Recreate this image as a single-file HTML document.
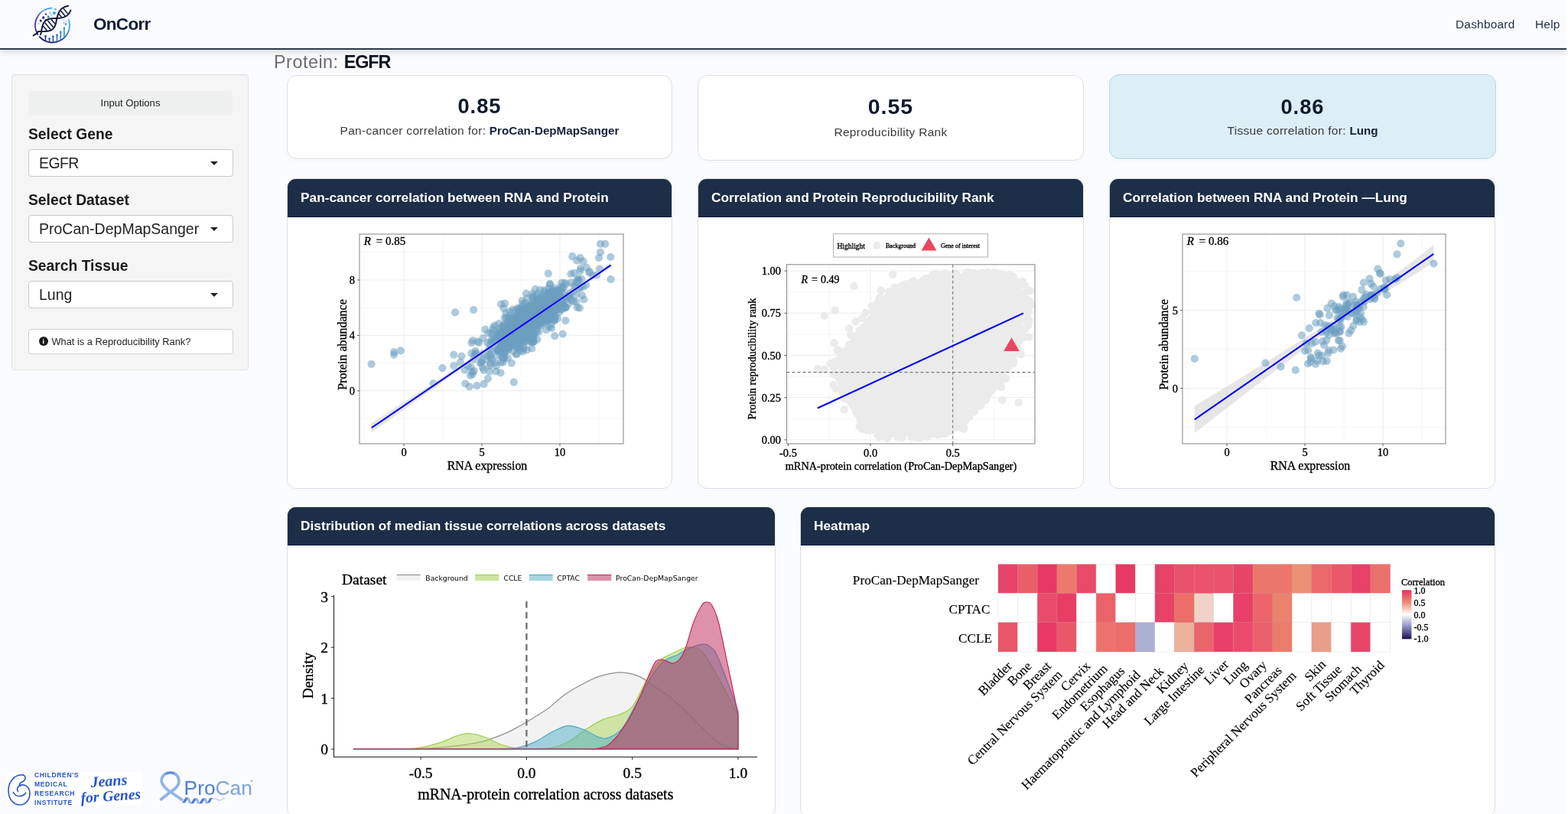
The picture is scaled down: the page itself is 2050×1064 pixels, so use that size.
<!DOCTYPE html>
<html><head><meta charset="utf-8"><title>OnCorr</title><style>
*{box-sizing:border-box;margin:0;padding:0}
html,body{width:2050px;height:1064px;overflow:hidden}
body{background:#fafbfe;font-family:"Liberation Sans",Arial,sans-serif;color:#212529;position:relative}
.hdr{position:absolute;left:0;top:0;width:2048px;height:65px;background:#fafbfe;border-bottom:2px solid #2e3a4a;box-shadow:0 3px 8px rgba(0,0,0,.13)}
.hdr:after{content:"";position:absolute;left:0;right:0;top:61px;height:1px;background:#fff}
.brand{position:absolute;left:122px;top:18.5px;font-size:22.5px;font-weight:bold;color:#0f1c38;letter-spacing:-0.7px}
.nav{position:absolute;top:23.2px;font-size:15.4px;color:#1c2b47;letter-spacing:0.25px}
.side{position:absolute;left:15px;top:97px;width:310px;height:387px;background:#f5f5f5;border:1px solid #e3e3e3;border-radius:4px;box-shadow:inset 0 1px 1px rgba(0,0,0,.03)}
.io{position:absolute;left:21px;top:21px;width:267px;height:32px;background:#eeefef;border-radius:4px;font-size:13.1px;color:#222;text-align:center;line-height:32px}
.lbl{position:absolute;left:21px;font-size:19.3px;font-weight:bold;color:#1a1a1a}
.sel{position:absolute;left:21px;width:268px;height:36px;background:#fff;border:1px solid #c9c9c9;border-radius:4px;font-size:19.5px;color:#222;padding-left:13px;line-height:34px}
.sel:after{content:"";position:absolute;right:19px;top:15px;border-left:5px solid transparent;border-right:5px solid transparent;border-top:5.5px solid #222}
.btn{position:absolute;left:21px;top:332px;width:268px;height:33px;background:#fff;border:1px solid #cfcfcf;border-radius:4px;font-size:12.85px;color:#222;line-height:31px;padding-left:14px}
.ic{display:inline-block;width:12.4px;height:12.4px;border-radius:50%;background:#1a1a1a;color:#fff;font-size:9px;font-weight:bold;text-align:center;line-height:12.4px;vertical-align:-1px;margin-right:3px;position:relative;top:-3px;left:-1.5px;font-family:"Liberation Serif",serif}
.ttl{position:absolute;left:358px;top:67.5px;font-size:23.4px;color:#6b6b6b;white-space:nowrap;letter-spacing:0.5px}
.ttl b{color:#0d1422;font-size:23.4px;letter-spacing:-1.1px;margin-left:0}
.vb{position:absolute;background:#fff;border:1px solid #dadbde;border-radius:13px;box-shadow:0 0 0 1px #fff,0 1px 4px rgba(0,0,0,.06);text-align:center}
.vb .n{position:absolute;left:0;right:0;font-size:27.3px;font-weight:bold;color:#0f1a2e;letter-spacing:1px}
.vb .s{position:absolute;left:0;right:0;font-size:15.5px;color:#3a3a3a;white-space:nowrap;letter-spacing:0.3px}
.vb .s b{font-size:15.2px;color:#15203a;letter-spacing:0}
.card{position:absolute;background:#fff;border:1px solid #dadcdf;border-radius:12px;overflow:hidden;box-shadow:0 0 0 1px #fff,0 1px 3px rgba(0,0,0,.06)}
.card .ch{position:absolute;left:-1px;top:-1px;right:-1px;height:51px;background:#1c2e48;border:1px solid #0c1830;color:#fff;font-size:17.3px;font-weight:bold;padding-left:17px;line-height:48px;white-space:nowrap;border-radius:12px 12px 0 0}
#ov{position:absolute;left:0;top:0;width:2050px;height:1064px}
#ov text{fill:#000;stroke:#000;stroke-width:0.35px}
#ov text.nl{stroke-width:0}
#ov text.hm{stroke-width:0.12px}
</style></head>
<body>
<div class="hdr"><svg style="position:absolute;left:0;top:0" width="100" height="62" viewBox="0 0 100 62"><defs><linearGradient id="gL" gradientUnits="userSpaceOnUse" x1="0" y1="10" x2="0" y2="52"><stop offset="0" stop-color="#5ab2f2"/><stop offset="0.35" stop-color="#5a46b4"/><stop offset="1" stop-color="#33106e"/></linearGradient><linearGradient id="gR" gradientUnits="userSpaceOnUse" x1="52" y1="50" x2="92" y2="25"><stop offset="0" stop-color="#2a1670"/><stop offset="0.45" stop-color="#1f4a9c"/><stop offset="1" stop-color="#4fd2f7"/></linearGradient><linearGradient id="gB" gradientUnits="userSpaceOnUse" x1="58" y1="0" x2="86" y2="0"><stop offset="0" stop-color="#173a78"/><stop offset="1" stop-color="#2f8ccc"/></linearGradient></defs><path d="M67.71,10.51 A22.5,22.5 0 0 0 49.42,44.92" fill="none" stroke="url(#gL)" stroke-width="1.9" stroke-linecap="round"/><path d="M51.78,48.06 A22.5,22.5 0 0 0 89.64,25.3" fill="none" stroke="url(#gR)" stroke-width="1.9" stroke-linecap="round"/><line x1="59.5" y1="47.3" x2="59.5" y2="52.42" stroke="url(#gB)" stroke-width="1.5" stroke-linecap="round"/><circle cx="59.5" cy="47.3" r="1.25" fill="url(#gB)"/><line x1="64.6" y1="50.4" x2="64.6" y2="53.96" stroke="url(#gB)" stroke-width="1.5" stroke-linecap="round"/><circle cx="64.6" cy="50.4" r="1.25" fill="url(#gB)"/><line x1="69.4" y1="47.8" x2="69.4" y2="54.28" stroke="url(#gB)" stroke-width="1.5" stroke-linecap="round"/><circle cx="69.4" cy="47.8" r="1.25" fill="url(#gB)"/><line x1="74.5" y1="45.8" x2="74.5" y2="53.49" stroke="url(#gB)" stroke-width="1.5" stroke-linecap="round"/><circle cx="74.5" cy="45.8" r="1.25" fill="url(#gB)"/><line x1="79.3" y1="41.7" x2="79.3" y2="51.54" stroke="url(#gB)" stroke-width="1.5" stroke-linecap="round"/><circle cx="79.3" cy="41.7" r="1.25" fill="url(#gB)"/><line x1="83.9" y1="36.8" x2="83.9" y2="48.2" stroke="url(#gB)" stroke-width="1.5" stroke-linecap="round"/><circle cx="83.9" cy="36.8" r="1.25" fill="url(#gB)"/><path d="M56.7,23 L60,26.3 M59.8,18.4 L63.3,22 M65.3,16.4 L67.1,19.7" stroke="#5a7cc8" stroke-width="0.5"/><circle cx="59.8" cy="18.4" r="1.2" fill="#4a2a96"/><circle cx="56.7" cy="23.0" r="1.7" fill="#3c1f86"/><circle cx="60.0" cy="26.3" r="1.2" fill="#3c1f86"/><circle cx="53.2" cy="27.1" r="1.5" fill="#0d1430"/><circle cx="50.6" cy="30.9" r="0.9" fill="#5ab8e0"/><circle cx="63.3" cy="22.0" r="1.4" fill="#2f7fcf"/><circle cx="65.3" cy="16.4" r="1.0" fill="#5ab8e0"/><circle cx="67.1" cy="19.7" r="0.8" fill="#5ab8e0"/><circle cx="70.9" cy="16.9" r="2.0" fill="#3d9cf0"/><circle cx="72.4" cy="12.1" r="1.35" fill="#49b2f5"/><circle cx="83.6" cy="26.3" r="0.8" fill="#7fd6f2"/><circle cx="86.1" cy="27.8" r="0.8" fill="#7fc6e0"/><circle cx="83.6" cy="29.9" r="0.9" fill="#9a86d8"/><circle cx="86.1" cy="31.6" r="1.35" fill="#3d9cf0"/><path d="M43.65,46.59 L44.46,46.01 L45.3,45.45 L46.15,44.92 L47.03,44.41 L47.79,43.78 L48.31,42.84 L48.97,42.08 L49.79,41.51 L50.78,41.13 L52.03,41.07 L53.33,41.07 L54.65,41.08 L55.95,41.09 L57.25,41.08 L58.53,41.06 L59.78,41 L61,40.9 L62.18,40.75 L63.31,40.55 L64.4,40.3 L65.43,39.97 L66.4,39.58 L67.31,39.11 L68.16,38.57 L68.94,37.96 L69.66,37.26 L70.31,36.49 L70.9,35.64 L71.43,34.73 L71.91,33.74 L72.33,32.69 L72.7,31.59 L73.03,30.43 L73.32,29.23 L73.58,28 L73.82,26.73 L73.92,25.3 L74.25,24.15 L74.59,23 L74.93,21.86 L75.29,20.73 L75.66,19.62 L76.05,18.54 L76.47,17.5 L76.93,16.49 L77.42,15.52 L77.95,14.61 L78.52,13.74 L79.14,12.93 L79.81,12.18 L80.53,11.49 L81.31,10.86 L82.13,10.29 L83,9.77 L83.91,9.32 L84.88,8.91 L85.89,8.56 L86.93,8.26 L88.01,8 L89.13,7.77" fill="none" stroke="#0c1632" stroke-width="1.9" stroke-linecap="round" stroke-linejoin="round"/><path d="M52.94,45.13 L53.39,44.36 L53.65,43.36 L53.84,42.27 L54.02,41.18 L54.21,40.09 L54.39,39 L54.59,37.92 L54.79,36.86 L55.02,35.81 L55.27,34.8 L55.54,33.81 L55.85,32.86 L56.18,31.95 L56.55,31.09 L56.97,30.27 L57.42,29.5 L57.91,28.78 L58.45,28.11 L59.04,27.5 L59.67,26.94 L60.35,26.43 L61.08,25.99 L61.85,25.59 L62.66,25.25 L63.52,24.96 L64.42,24.72 L65.35,24.52 L66.32,24.36 L67.32,24.24 L68.35,24.16 L69.41,24.1 L70.48,24.07 L71.57,24.05 L72.67,24.05 L73.82,24.11 L74.83,24 L75.83,23.88 L76.83,23.76 L77.82,23.63 L78.8,23.48 L79.76,23.31 L80.7,23.12 L81.62,22.91 L82.52,22.66 L83.38,22.38 L84.22,22.07 L85.03,21.72 L85.8,21.33 L86.54,20.9 L87.25,20.42 L87.92,19.91 L88.55,19.35 L89.14,18.75 L89.7,18.11 L90.23,17.42 L90.72,16.7 L91.18,15.94 L91.61,15.14 L92.02,14.31 L92.39,13.44" fill="none" stroke="#0c1632" stroke-width="1.9" stroke-linecap="round" stroke-linejoin="round"/><line x1="61.47" y1="40.09" x2="56.29" y2="33.93" stroke="#0c1632" stroke-width="1.5"/><line x1="66.06" y1="38.4" x2="58.74" y2="29.7" stroke="#0c1632" stroke-width="1.5"/><line x1="69.58" y1="35.44" x2="62.26" y2="26.74" stroke="#0c1632" stroke-width="1.5"/><line x1="72.03" y1="31.21" x2="66.85" y2="25.05" stroke="#0c1632" stroke-width="1.5"/><line x1="76.81" y1="18.14" x2="80.55" y2="22.58" stroke="#0c1632" stroke-width="1.5"/><line x1="79.42" y1="14.09" x2="84.98" y2="20.71" stroke="#0c1632" stroke-width="1.5"/><line x1="82.83" y1="11" x2="88.61" y2="17.88" stroke="#0c1632" stroke-width="1.5"/></svg>
<div class="brand">OnCorr</div>
<div class="nav" style="left:1903px">Dashboard</div>
<div class="nav" style="left:2007px">Help</div>
</div>
<div class="side">
<div class="io">Input Options</div>
<div class="lbl" style="top:67px">Select Gene</div>
<div class="sel" style="top:97px"><span style="letter-spacing:-0.6px">EGFR</span></div>
<div class="lbl" style="top:153px">Select Dataset</div>
<div class="sel" style="top:183px">ProCan-DepMapSanger</div>
<div class="lbl" style="top:239px">Search Tissue</div>
<div class="sel" style="top:269px">Lung</div>
<div class="btn"><span class="ic">i</span>What is a Reproducibility Rank?</div>
</div>
<div class="ttl">Protein: <b>EGFR</b></div>
<div class="vb" style="left:375px;top:98px;width:504px;height:110px"><div class="n" style="top:24.4px">0.85</div><div class="s" style="top:63.2px">Pan-cancer correlation for: <b>ProCan-DepMapSanger</b></div></div>
<div class="vb" style="left:912px;top:98px;width:505px;height:112px"><div class="n" style="top:24.2px;font-size:28.5px">0.55</div><div class="s" style="top:64.6px">Reproducibility Rank</div></div>
<div class="vb" style="left:1450px;top:97px;width:506px;height:111px;background:#dcEEF6;border-color:#b5d6e6"><div class="n" style="top:25.5px">0.86</div><div class="s" style="top:64.3px">Tissue correlation for: <b>Lung</b></div></div>

<div class="card" style="left:375px;top:233px;width:504px;height:406px"><div class="ch">Pan-cancer correlation between RNA and Protein</div></div>
<div class="card" style="left:912px;top:233px;width:505px;height:406px"><div class="ch">Correlation and Protein Reproducibility Rank</div></div>
<div class="card" style="left:1450px;top:233px;width:505px;height:406px"><div class="ch">Correlation between RNA and Protein —Lung</div></div>
<div class="card" style="left:375px;top:662px;width:639px;height:406px"><div class="ch">Distribution of median tissue correlations across datasets</div></div>
<div class="card" style="left:1046px;top:662px;width:909px;height:406px"><div class="ch">Heatmap</div></div>

<div style="position:absolute;left:9px;top:1009px;width:177px;height:43px;background:#fff"></div>
<svg style="position:absolute;left:8px;top:1005px" width="330" height="52" viewBox="0 0 330 52">
<g fill="none" stroke="#2456c8" stroke-width="1.6">
<path d="M20 8 C10 8 3 18 3 28 C3 40 10 47 18 47 C26 47 31 40 31 32 C31 25 26 20 20 21 C15 22 13 27 16 30"/>
<path d="M20 8 C26 7 27 14 21 17 C17 19 16 22 20 22"/>
<path d="M9 30 C13 38 22 37 26 31"/>
</g>
<g font-family="Liberation Sans,sans-serif" font-weight="bold" font-size="8.6" fill="#2456c8" letter-spacing="0.6">
<text x="37" y="11">CHILDREN'S</text><text x="37" y="22.6">MEDICAL</text><text x="37" y="34.5">RESEARCH</text><text x="37" y="46.5">INSTITUTE</text>
</g>
<g font-family="Liberation Serif,serif" font-style="italic" font-weight="bold" fill="#2456c8">
<text x="111" y="24" font-size="20" transform="rotate(-4 111 24)">Jeans</text>
<text x="98" y="44.5" font-size="19.5" transform="rotate(-4 98 44.5)">for Genes</text>
</g>
<path d="M214.9,4.8 C221.5,4.8 226.2,10 225.9,17.2 C225.6,23 219,28 213,31.5 L201.5,40.8" fill="none" stroke="#8fb1e8" stroke-width="3.8" stroke-linejoin="round"/>
<path d="M214.9,4.8 C207.5,4.8 202.8,10 203.2,16 C203.8,22.5 210,27.5 218.8,32.8 L231,41.2" fill="none" stroke="#93b4e9" stroke-width="3.8" stroke-linejoin="round"/>
<path d="M208.5,6.8 C211,5 216,4.5 220,6" fill="none" stroke="#5f8dd4" stroke-width="2.6"/>
<g fill="#4f80cc"><polygon points="230,44.5 234,44.5 238.5,37.5 234.5,37.5"/><polygon points="241,45.5 245,45.5 249.5,38.5 245.5,38.5"/><polygon points="252,45.5 256,45.5 260.5,38.5 256.5,38.5"/><polygon points="262.5,44.5 266,44.5 270,38 266.5,38"/></g>
<g fill="#8fb1e8"><polygon points="236.5,38 239.5,38 242,45 239,45"/><polygon points="247.5,38.5 250.5,38.5 253,45.5 250,45.5"/><polygon points="258.5,38.5 261.5,38.5 264,45.5 261,45.5"/></g>
<path d="M270,40 q3,-2.5 6,0 q3,2.5 6,0 q2,-2 4,-1" fill="none" stroke="#a9c2ee" stroke-width="1.1"/>
<circle cx="321" cy="15.8" r="1.6" fill="#b4c9ee"/>
<text x="232.6" y="33.6" font-family="Liberation Sans,sans-serif" font-size="26.3" fill="#4f80cc">Pro<tspan fill="#7aa3e0">Can</tspan></text>
</svg>
<div style="position:absolute;left:2048px;top:0;width:2px;height:1064px;background:#fff"></div>
<svg id="ov" width="2050" height="1064" viewBox="0 0 2050 1064">
<rect x="470" y="306" width="345" height="274" fill="#fff"/>
<line x1="477" y1="306" x2="477" y2="580" stroke="#f4f4f4" stroke-width="0.8"/>
<line x1="579" y1="306" x2="579" y2="580" stroke="#f4f4f4" stroke-width="0.8"/>
<line x1="681" y1="306" x2="681" y2="580" stroke="#f4f4f4" stroke-width="0.8"/>
<line x1="783" y1="306" x2="783" y2="580" stroke="#f4f4f4" stroke-width="0.8"/>
<line x1="470" y1="547" x2="815" y2="547" stroke="#f4f4f4" stroke-width="0.8"/>
<line x1="470" y1="474.6" x2="815" y2="474.6" stroke="#f4f4f4" stroke-width="0.8"/>
<line x1="470" y1="402.2" x2="815" y2="402.2" stroke="#f4f4f4" stroke-width="0.8"/>
<line x1="470" y1="329.8" x2="815" y2="329.8" stroke="#f4f4f4" stroke-width="0.8"/>
<line x1="528" y1="306" x2="528" y2="580" stroke="#ececec" stroke-width="1"/>
<line x1="630" y1="306" x2="630" y2="580" stroke="#ececec" stroke-width="1"/>
<line x1="732" y1="306" x2="732" y2="580" stroke="#ececec" stroke-width="1"/>
<line x1="470" y1="510.8" x2="815" y2="510.8" stroke="#ececec" stroke-width="1"/>
<line x1="470" y1="438.4" x2="815" y2="438.4" stroke="#ececec" stroke-width="1"/>
<line x1="470" y1="366" x2="815" y2="366" stroke="#ececec" stroke-width="1"/>
<g fill="#6c9fbf" fill-opacity="0.55"><circle cx="669.4" cy="429.5" r="5.1"/><circle cx="723.7" cy="403.8" r="5.1"/><circle cx="666.8" cy="436.8" r="5.1"/><circle cx="711.1" cy="392" r="5.1"/><circle cx="669.6" cy="450.5" r="5.1"/><circle cx="716.6" cy="396.1" r="5.1"/><circle cx="736.9" cy="375.9" r="5.1"/><circle cx="696.9" cy="419.1" r="5.1"/><circle cx="762.3" cy="374.8" r="5.1"/><circle cx="680.1" cy="441.4" r="5.1"/><circle cx="701.7" cy="410.5" r="5.1"/><circle cx="690.9" cy="420.4" r="5.1"/><circle cx="706" cy="400.6" r="5.1"/><circle cx="726.2" cy="393" r="5.1"/><circle cx="655.5" cy="434.8" r="5.1"/><circle cx="664.6" cy="439.7" r="5.1"/><circle cx="663.3" cy="438.4" r="5.1"/><circle cx="680.3" cy="424.1" r="5.1"/><circle cx="780.2" cy="359.6" r="5.1"/><circle cx="720" cy="416.6" r="5.1"/><circle cx="692.3" cy="410.3" r="5.1"/><circle cx="697.1" cy="410.7" r="5.1"/><circle cx="701.9" cy="424.9" r="5.1"/><circle cx="713.2" cy="414.8" r="5.1"/><circle cx="745.2" cy="389.1" r="5.1"/><circle cx="716.2" cy="402.4" r="5.1"/><circle cx="722.7" cy="405.7" r="5.1"/><circle cx="723.8" cy="398.8" r="5.1"/><circle cx="730.3" cy="385" r="5.1"/><circle cx="702.8" cy="421.4" r="5.1"/><circle cx="718.2" cy="395.2" r="5.1"/><circle cx="739.6" cy="391.3" r="5.1"/><circle cx="712.9" cy="398.2" r="5.1"/><circle cx="706.3" cy="406.5" r="5.1"/><circle cx="703.8" cy="418.4" r="5.1"/><circle cx="674.5" cy="435.8" r="5.1"/><circle cx="713.8" cy="384.9" r="5.1"/><circle cx="723.3" cy="384.3" r="5.1"/><circle cx="718.4" cy="392.1" r="5.1"/><circle cx="703.8" cy="401.1" r="5.1"/><circle cx="742.8" cy="388.5" r="5.1"/><circle cx="682.4" cy="400.6" r="5.1"/><circle cx="705.4" cy="397.5" r="5.1"/><circle cx="720.8" cy="413.7" r="5.1"/><circle cx="758.9" cy="350.9" r="5.1"/><circle cx="703.7" cy="401.4" r="5.1"/><circle cx="702.5" cy="423" r="5.1"/><circle cx="696.6" cy="411" r="5.1"/><circle cx="726.7" cy="386.3" r="5.1"/><circle cx="700.8" cy="395.7" r="5.1"/><circle cx="680.7" cy="416.5" r="5.1"/><circle cx="726.6" cy="399.1" r="5.1"/><circle cx="655.5" cy="455.2" r="5.1"/><circle cx="705.2" cy="403.3" r="5.1"/><circle cx="737.3" cy="400.8" r="5.1"/><circle cx="699.4" cy="405.6" r="5.1"/><circle cx="695.5" cy="446.5" r="5.1"/><circle cx="719.1" cy="371.2" r="5.1"/><circle cx="723.9" cy="408.8" r="5.1"/><circle cx="689.3" cy="417.9" r="5.1"/><circle cx="760.3" cy="364.7" r="5.1"/><circle cx="702.1" cy="392.3" r="5.1"/><circle cx="697.4" cy="391.7" r="5.1"/><circle cx="682.6" cy="431.3" r="5.1"/><circle cx="717" cy="383.8" r="5.1"/><circle cx="715.4" cy="399.2" r="5.1"/><circle cx="654.8" cy="453.2" r="5.1"/><circle cx="684.4" cy="430.8" r="5.1"/><circle cx="713.7" cy="408.4" r="5.1"/><circle cx="718.6" cy="399.7" r="5.1"/><circle cx="691.2" cy="417.9" r="5.1"/><circle cx="709.9" cy="395.9" r="5.1"/><circle cx="687.7" cy="424.8" r="5.1"/><circle cx="666" cy="416.3" r="5.1"/><circle cx="734.9" cy="392" r="5.1"/><circle cx="687.6" cy="437.5" r="5.1"/><circle cx="703.5" cy="408.4" r="5.1"/><circle cx="752.8" cy="374.5" r="5.1"/><circle cx="680.3" cy="457.8" r="5.1"/><circle cx="733.9" cy="388" r="5.1"/><circle cx="660" cy="438.4" r="5.1"/><circle cx="660" cy="396.6" r="5.1"/><circle cx="726.8" cy="388" r="5.1"/><circle cx="695.1" cy="443.9" r="5.1"/><circle cx="696.3" cy="435.7" r="5.1"/><circle cx="714" cy="431.1" r="5.1"/><circle cx="677.1" cy="413.5" r="5.1"/><circle cx="739.6" cy="401.5" r="5.1"/><circle cx="661.8" cy="428.3" r="5.1"/><circle cx="720.2" cy="412.2" r="5.1"/><circle cx="682.4" cy="434.2" r="5.1"/><circle cx="670.2" cy="442.3" r="5.1"/><circle cx="730" cy="384.3" r="5.1"/><circle cx="749.7" cy="380.8" r="5.1"/><circle cx="696" cy="428.6" r="5.1"/><circle cx="696.3" cy="432.6" r="5.1"/><circle cx="655.8" cy="434.6" r="5.1"/><circle cx="734.6" cy="379.3" r="5.1"/><circle cx="732" cy="388.5" r="5.1"/><circle cx="681.8" cy="424.7" r="5.1"/><circle cx="690.2" cy="434.2" r="5.1"/><circle cx="657.9" cy="460.8" r="5.1"/><circle cx="699.2" cy="412.1" r="5.1"/><circle cx="687.7" cy="403.7" r="5.1"/><circle cx="703.7" cy="403.5" r="5.1"/><circle cx="729.2" cy="404" r="5.1"/><circle cx="651.1" cy="437.1" r="5.1"/><circle cx="682.5" cy="408.7" r="5.1"/><circle cx="707.6" cy="395.5" r="5.1"/><circle cx="718.1" cy="427.5" r="5.1"/><circle cx="717" cy="410.4" r="5.1"/><circle cx="680.9" cy="432" r="5.1"/><circle cx="718.2" cy="389.9" r="5.1"/><circle cx="724.1" cy="418.1" r="5.1"/><circle cx="684.9" cy="453.8" r="5.1"/><circle cx="696.9" cy="408" r="5.1"/><circle cx="680.7" cy="423.5" r="5.1"/><circle cx="705" cy="397.3" r="5.1"/><circle cx="679.3" cy="438.1" r="5.1"/><circle cx="680.7" cy="404.4" r="5.1"/><circle cx="726.1" cy="397.3" r="5.1"/><circle cx="704.9" cy="408.7" r="5.1"/><circle cx="704.3" cy="413.2" r="5.1"/><circle cx="691.2" cy="435.4" r="5.1"/><circle cx="683.6" cy="403.7" r="5.1"/><circle cx="712.5" cy="404.1" r="5.1"/><circle cx="694.1" cy="416.7" r="5.1"/><circle cx="708" cy="416.2" r="5.1"/><circle cx="704.2" cy="407.6" r="5.1"/><circle cx="681" cy="436.3" r="5.1"/><circle cx="674.9" cy="444" r="5.1"/><circle cx="721.1" cy="429" r="5.1"/><circle cx="692.8" cy="426.1" r="5.1"/><circle cx="684.2" cy="423" r="5.1"/><circle cx="727" cy="394.2" r="5.1"/><circle cx="695.9" cy="424" r="5.1"/><circle cx="696.2" cy="404.5" r="5.1"/><circle cx="689.7" cy="435" r="5.1"/><circle cx="668.4" cy="448.9" r="5.1"/><circle cx="665.3" cy="423.1" r="5.1"/><circle cx="708.1" cy="411" r="5.1"/><circle cx="735.1" cy="397.9" r="5.1"/><circle cx="717.8" cy="391.2" r="5.1"/><circle cx="661.5" cy="459.3" r="5.1"/><circle cx="676.7" cy="417.8" r="5.1"/><circle cx="731.1" cy="407.9" r="5.1"/><circle cx="725" cy="401.3" r="5.1"/><circle cx="689.7" cy="427.4" r="5.1"/><circle cx="691.4" cy="442.3" r="5.1"/><circle cx="674.8" cy="446.2" r="5.1"/><circle cx="711.4" cy="379.3" r="5.1"/><circle cx="766.2" cy="372.7" r="5.1"/><circle cx="657.2" cy="447.7" r="5.1"/><circle cx="676.4" cy="404.4" r="5.1"/><circle cx="713.3" cy="413.6" r="5.1"/><circle cx="722.3" cy="391.5" r="5.1"/><circle cx="659.6" cy="447.7" r="5.1"/><circle cx="693.5" cy="417.6" r="5.1"/><circle cx="702.6" cy="416" r="5.1"/><circle cx="704" cy="418.2" r="5.1"/><circle cx="677.4" cy="409.6" r="5.1"/><circle cx="708.2" cy="402.3" r="5.1"/><circle cx="660.3" cy="442.5" r="5.1"/><circle cx="719.4" cy="416.6" r="5.1"/><circle cx="726.2" cy="400.6" r="5.1"/><circle cx="709.2" cy="408.9" r="5.1"/><circle cx="704.7" cy="395" r="5.1"/><circle cx="689.5" cy="400.8" r="5.1"/><circle cx="680.2" cy="438.7" r="5.1"/><circle cx="716.8" cy="415.6" r="5.1"/><circle cx="690.3" cy="408.6" r="5.1"/><circle cx="729" cy="416.2" r="5.1"/><circle cx="711.7" cy="381.6" r="5.1"/><circle cx="728.6" cy="397" r="5.1"/><circle cx="684.7" cy="427.6" r="5.1"/><circle cx="671.1" cy="436.4" r="5.1"/><circle cx="694.8" cy="418.8" r="5.1"/><circle cx="728.3" cy="397.1" r="5.1"/><circle cx="663.7" cy="424.8" r="5.1"/><circle cx="673.1" cy="437.4" r="5.1"/><circle cx="696.1" cy="420.5" r="5.1"/><circle cx="674.8" cy="433.7" r="5.1"/><circle cx="752.8" cy="385.2" r="5.1"/><circle cx="696" cy="401.9" r="5.1"/><circle cx="717.6" cy="391.8" r="5.1"/><circle cx="720.5" cy="424.5" r="5.1"/><circle cx="678.2" cy="426.6" r="5.1"/><circle cx="711.6" cy="389.2" r="5.1"/><circle cx="710.9" cy="409.1" r="5.1"/><circle cx="700.3" cy="415.9" r="5.1"/><circle cx="705.4" cy="401.2" r="5.1"/><circle cx="691" cy="429.8" r="5.1"/><circle cx="678.4" cy="414.2" r="5.1"/><circle cx="730.7" cy="380" r="5.1"/><circle cx="720.3" cy="389.1" r="5.1"/><circle cx="699.3" cy="405.5" r="5.1"/><circle cx="673.6" cy="434" r="5.1"/><circle cx="681.4" cy="416.9" r="5.1"/><circle cx="685.2" cy="424.9" r="5.1"/><circle cx="709.2" cy="390.1" r="5.1"/><circle cx="680" cy="439" r="5.1"/><circle cx="719.4" cy="414.3" r="5.1"/><circle cx="710.4" cy="413.6" r="5.1"/><circle cx="696.8" cy="438.7" r="5.1"/><circle cx="716.8" cy="408.4" r="5.1"/><circle cx="677.4" cy="402.5" r="5.1"/><circle cx="716.8" cy="357.6" r="5.1"/><circle cx="709.3" cy="411.5" r="5.1"/><circle cx="702" cy="391.7" r="5.1"/><circle cx="698.7" cy="408.6" r="5.1"/><circle cx="712" cy="416.8" r="5.1"/><circle cx="702.5" cy="418.1" r="5.1"/><circle cx="668.9" cy="423.6" r="5.1"/><circle cx="715.7" cy="401.9" r="5.1"/><circle cx="677.1" cy="454.4" r="5.1"/><circle cx="711.2" cy="407" r="5.1"/><circle cx="658.1" cy="442.7" r="5.1"/><circle cx="662.1" cy="439.5" r="5.1"/><circle cx="702.9" cy="407" r="5.1"/><circle cx="704.7" cy="408.1" r="5.1"/><circle cx="671.5" cy="437.7" r="5.1"/><circle cx="686.8" cy="425.4" r="5.1"/><circle cx="706" cy="401.5" r="5.1"/><circle cx="739.4" cy="419.2" r="5.1"/><circle cx="709.2" cy="409.7" r="5.1"/><circle cx="755.1" cy="364.2" r="5.1"/><circle cx="658.9" cy="436.3" r="5.1"/><circle cx="686.6" cy="410" r="5.1"/><circle cx="673.5" cy="432.7" r="5.1"/><circle cx="696.1" cy="417.3" r="5.1"/><circle cx="685.1" cy="446.9" r="5.1"/><circle cx="710.6" cy="393.6" r="5.1"/><circle cx="697.7" cy="427.9" r="5.1"/><circle cx="704.3" cy="403.3" r="5.1"/><circle cx="695.1" cy="417" r="5.1"/><circle cx="733.8" cy="404.6" r="5.1"/><circle cx="685.7" cy="447.3" r="5.1"/><circle cx="682.2" cy="434.9" r="5.1"/><circle cx="675.9" cy="438.7" r="5.1"/><circle cx="743.4" cy="386.5" r="5.1"/><circle cx="696.6" cy="387.9" r="5.1"/><circle cx="697.9" cy="436.9" r="5.1"/><circle cx="709.2" cy="419.1" r="5.1"/><circle cx="739.5" cy="402.4" r="5.1"/><circle cx="685.2" cy="443.9" r="5.1"/><circle cx="701.7" cy="425.1" r="5.1"/><circle cx="697.8" cy="419.7" r="5.1"/><circle cx="684.4" cy="412.1" r="5.1"/><circle cx="722.3" cy="397.5" r="5.1"/><circle cx="677.3" cy="442.4" r="5.1"/><circle cx="706" cy="379.1" r="5.1"/><circle cx="688.2" cy="431.4" r="5.1"/><circle cx="682.3" cy="439.4" r="5.1"/><circle cx="675.6" cy="432.7" r="5.1"/><circle cx="734.5" cy="390" r="5.1"/><circle cx="686.9" cy="442.8" r="5.1"/><circle cx="704.6" cy="410.7" r="5.1"/><circle cx="669.3" cy="448.1" r="5.1"/><circle cx="698.3" cy="401.8" r="5.1"/><circle cx="714.7" cy="400.9" r="5.1"/><circle cx="691.4" cy="415.2" r="5.1"/><circle cx="699.1" cy="386.6" r="5.1"/><circle cx="671.6" cy="437.4" r="5.1"/><circle cx="730.4" cy="396.2" r="5.1"/><circle cx="734.2" cy="390.7" r="5.1"/><circle cx="702.9" cy="416.2" r="5.1"/><circle cx="665.6" cy="449.2" r="5.1"/><circle cx="753.6" cy="368.9" r="5.1"/><circle cx="714.2" cy="391.7" r="5.1"/><circle cx="713.3" cy="391.5" r="5.1"/><circle cx="692.8" cy="421.1" r="5.1"/><circle cx="723.4" cy="402" r="5.1"/><circle cx="666.8" cy="438.9" r="5.1"/><circle cx="686" cy="415.2" r="5.1"/><circle cx="681.7" cy="439.3" r="5.1"/><circle cx="691.2" cy="399.7" r="5.1"/><circle cx="698.2" cy="412.6" r="5.1"/><circle cx="699.6" cy="410" r="5.1"/><circle cx="722.1" cy="380.8" r="5.1"/><circle cx="659.1" cy="424" r="5.1"/><circle cx="699.3" cy="418" r="5.1"/><circle cx="758.1" cy="376.1" r="5.1"/><circle cx="747" cy="369.3" r="5.1"/><circle cx="674.2" cy="424.8" r="5.1"/><circle cx="717.4" cy="403.2" r="5.1"/><circle cx="642.4" cy="457" r="5.1"/><circle cx="694.7" cy="431.1" r="5.1"/><circle cx="744.1" cy="386.6" r="5.1"/><circle cx="689.7" cy="424.2" r="5.1"/><circle cx="680.2" cy="436.8" r="5.1"/><circle cx="701.7" cy="408.4" r="5.1"/><circle cx="686.9" cy="423.5" r="5.1"/><circle cx="665.3" cy="430.4" r="5.1"/><circle cx="681" cy="423.6" r="5.1"/><circle cx="677.2" cy="435.5" r="5.1"/><circle cx="704.6" cy="425.7" r="5.1"/><circle cx="759.8" cy="373.3" r="5.1"/><circle cx="697.6" cy="424.4" r="5.1"/><circle cx="738.4" cy="369.8" r="5.1"/><circle cx="706.7" cy="426.2" r="5.1"/><circle cx="687" cy="414.5" r="5.1"/><circle cx="686.8" cy="437.4" r="5.1"/><circle cx="670.3" cy="443.4" r="5.1"/><circle cx="699.7" cy="421.9" r="5.1"/><circle cx="699.8" cy="378.2" r="5.1"/><circle cx="742.8" cy="397.5" r="5.1"/><circle cx="707.8" cy="407.1" r="5.1"/><circle cx="696" cy="403" r="5.1"/><circle cx="691.2" cy="423.5" r="5.1"/><circle cx="690.2" cy="421.4" r="5.1"/><circle cx="730.8" cy="382.7" r="5.1"/><circle cx="666.5" cy="441.8" r="5.1"/><circle cx="679.8" cy="416.8" r="5.1"/><circle cx="704.9" cy="398.9" r="5.1"/><circle cx="697.8" cy="439.1" r="5.1"/><circle cx="710.4" cy="403.5" r="5.1"/><circle cx="711.8" cy="421.9" r="5.1"/><circle cx="701.4" cy="421.2" r="5.1"/><circle cx="682.5" cy="420.8" r="5.1"/><circle cx="708" cy="419.3" r="5.1"/><circle cx="657.4" cy="473.7" r="5.1"/><circle cx="685.3" cy="409.2" r="5.1"/><circle cx="698" cy="443.3" r="5.1"/><circle cx="678.2" cy="422.9" r="5.1"/><circle cx="740.3" cy="371.3" r="5.1"/><circle cx="708.3" cy="405.3" r="5.1"/><circle cx="673.4" cy="437.2" r="5.1"/><circle cx="691.2" cy="429.2" r="5.1"/><circle cx="700.9" cy="417.8" r="5.1"/><circle cx="707.6" cy="390.1" r="5.1"/><circle cx="717.5" cy="396.3" r="5.1"/><circle cx="693.5" cy="437.1" r="5.1"/><circle cx="696.6" cy="408.9" r="5.1"/><circle cx="674.7" cy="414.8" r="5.1"/><circle cx="691.2" cy="414.7" r="5.1"/><circle cx="691.3" cy="435.3" r="5.1"/><circle cx="750" cy="394.2" r="5.1"/><circle cx="721.8" cy="405.6" r="5.1"/><circle cx="706.2" cy="419.5" r="5.1"/><circle cx="689.2" cy="409.2" r="5.1"/><circle cx="747" cy="392.2" r="5.1"/><circle cx="699.6" cy="401.7" r="5.1"/><circle cx="683.9" cy="415.4" r="5.1"/><circle cx="680.1" cy="419.3" r="5.1"/><circle cx="710" cy="391.3" r="5.1"/><circle cx="708.3" cy="423" r="5.1"/><circle cx="715.6" cy="416.8" r="5.1"/><circle cx="717.7" cy="382.3" r="5.1"/><circle cx="713.9" cy="411" r="5.1"/><circle cx="728.5" cy="391.9" r="5.1"/><circle cx="668.9" cy="439.1" r="5.1"/><circle cx="734.1" cy="394.1" r="5.1"/><circle cx="702.3" cy="416.2" r="5.1"/><circle cx="658.1" cy="448.4" r="5.1"/><circle cx="708.1" cy="405.3" r="5.1"/><circle cx="695.1" cy="443.8" r="5.1"/><circle cx="729.3" cy="384.4" r="5.1"/><circle cx="724.4" cy="380.4" r="5.1"/><circle cx="688.5" cy="428.9" r="5.1"/><circle cx="707.1" cy="387.5" r="5.1"/><circle cx="658.1" cy="444.8" r="5.1"/><circle cx="681.9" cy="418.7" r="5.1"/><circle cx="735.2" cy="393.3" r="5.1"/><circle cx="669" cy="433.9" r="5.1"/><circle cx="692.4" cy="438.2" r="5.1"/><circle cx="721" cy="405.8" r="5.1"/><circle cx="716.1" cy="419.2" r="5.1"/><circle cx="726.2" cy="413.9" r="5.1"/><circle cx="725.1" cy="419.3" r="5.1"/><circle cx="733.1" cy="395.7" r="5.1"/><circle cx="661.3" cy="442.8" r="5.1"/><circle cx="707.6" cy="420.8" r="5.1"/><circle cx="687.3" cy="418.7" r="5.1"/><circle cx="695.2" cy="455.5" r="5.1"/><circle cx="688.8" cy="415.6" r="5.1"/><circle cx="706.6" cy="396.2" r="5.1"/><circle cx="682.5" cy="393" r="5.1"/><circle cx="718.9" cy="396.6" r="5.1"/><circle cx="725.9" cy="383.7" r="5.1"/><circle cx="701.9" cy="420.1" r="5.1"/><circle cx="724.4" cy="391.5" r="5.1"/><circle cx="653" cy="459.4" r="5.1"/><circle cx="710.8" cy="404.7" r="5.1"/><circle cx="706.2" cy="401.1" r="5.1"/><circle cx="702.9" cy="391.4" r="5.1"/><circle cx="684.9" cy="428.8" r="5.1"/><circle cx="707.3" cy="399.1" r="5.1"/><circle cx="718.6" cy="381.9" r="5.1"/><circle cx="687.7" cy="407" r="5.1"/><circle cx="710.8" cy="419.3" r="5.1"/><circle cx="696" cy="389.7" r="5.1"/><circle cx="718.6" cy="406.8" r="5.1"/><circle cx="640.6" cy="463.1" r="5.1"/><circle cx="682.2" cy="424.6" r="5.1"/><circle cx="755.9" cy="366" r="5.1"/><circle cx="707" cy="420.5" r="5.1"/><circle cx="670.3" cy="436.3" r="5.1"/><circle cx="687.9" cy="383.6" r="5.1"/><circle cx="689.5" cy="428.4" r="5.1"/><circle cx="727" cy="394.1" r="5.1"/><circle cx="669.1" cy="418.1" r="5.1"/><circle cx="691.7" cy="435.9" r="5.1"/><circle cx="707.2" cy="402.4" r="5.1"/><circle cx="691.1" cy="410.7" r="5.1"/><circle cx="719.4" cy="411.4" r="5.1"/><circle cx="649" cy="478.4" r="5.1"/><circle cx="696.2" cy="400.4" r="5.1"/><circle cx="723.9" cy="379.6" r="5.1"/><circle cx="744.8" cy="382.8" r="5.1"/><circle cx="725.2" cy="415.7" r="5.1"/><circle cx="716.2" cy="397.4" r="5.1"/><circle cx="697" cy="421.1" r="5.1"/><circle cx="672" cy="430.7" r="5.1"/><circle cx="730.6" cy="397.3" r="5.1"/><circle cx="712.4" cy="413.5" r="5.1"/><circle cx="705.6" cy="422.4" r="5.1"/><circle cx="708.6" cy="410.4" r="5.1"/><circle cx="707.1" cy="416.3" r="5.1"/><circle cx="670.6" cy="437.6" r="5.1"/><circle cx="724.7" cy="376.6" r="5.1"/><circle cx="691.4" cy="409.2" r="5.1"/><circle cx="717.9" cy="396.3" r="5.1"/><circle cx="661.4" cy="435.6" r="5.1"/><circle cx="675.6" cy="415.1" r="5.1"/><circle cx="718.7" cy="392.9" r="5.1"/><circle cx="637.3" cy="448.2" r="5.1"/><circle cx="716.5" cy="418.4" r="5.1"/><circle cx="723.1" cy="396.8" r="5.1"/><circle cx="694.9" cy="426" r="5.1"/><circle cx="674.4" cy="436.3" r="5.1"/><circle cx="774.9" cy="360" r="5.1"/><circle cx="704.5" cy="418.6" r="5.1"/><circle cx="684.2" cy="431.2" r="5.1"/><circle cx="677.7" cy="417.5" r="5.1"/><circle cx="692.7" cy="407.4" r="5.1"/><circle cx="671.1" cy="421.3" r="5.1"/><circle cx="698.7" cy="405.9" r="5.1"/><circle cx="696.8" cy="426.9" r="5.1"/><circle cx="729" cy="399.3" r="5.1"/><circle cx="695.8" cy="427.6" r="5.1"/><circle cx="704.4" cy="415.4" r="5.1"/><circle cx="706.3" cy="404.8" r="5.1"/><circle cx="682.5" cy="443.2" r="5.1"/><circle cx="710" cy="395.1" r="5.1"/><circle cx="716.4" cy="416.8" r="5.1"/><circle cx="714.2" cy="398.9" r="5.1"/><circle cx="706.3" cy="403.7" r="5.1"/><circle cx="691.4" cy="416.6" r="5.1"/><circle cx="722" cy="404.9" r="5.1"/><circle cx="664.1" cy="439.2" r="5.1"/><circle cx="704.2" cy="434" r="5.1"/><circle cx="682.8" cy="417.7" r="5.1"/><circle cx="695.7" cy="415.2" r="5.1"/><circle cx="668.5" cy="423.4" r="5.1"/><circle cx="742.3" cy="387.2" r="5.1"/><circle cx="681.4" cy="440.7" r="5.1"/><circle cx="721.2" cy="397.7" r="5.1"/><circle cx="679.9" cy="411.7" r="5.1"/><circle cx="718.1" cy="393.5" r="5.1"/><circle cx="656.3" cy="444.5" r="5.1"/><circle cx="714.7" cy="419" r="5.1"/><circle cx="722.1" cy="380.3" r="5.1"/><circle cx="724.7" cy="405.8" r="5.1"/><circle cx="682" cy="413.7" r="5.1"/><circle cx="723.7" cy="381.8" r="5.1"/><circle cx="728.8" cy="395.2" r="5.1"/><circle cx="689.3" cy="444.2" r="5.1"/><circle cx="718.6" cy="372" r="5.1"/><circle cx="688" cy="427.6" r="5.1"/><circle cx="715.2" cy="398.3" r="5.1"/><circle cx="665.8" cy="445.7" r="5.1"/><circle cx="672.5" cy="406.5" r="5.1"/><circle cx="681.8" cy="415" r="5.1"/><circle cx="746.3" cy="358" r="5.1"/><circle cx="734.3" cy="369.5" r="5.1"/><circle cx="669.1" cy="438.8" r="5.1"/><circle cx="681.5" cy="429.7" r="5.1"/><circle cx="763.5" cy="391.5" r="5.1"/><circle cx="713" cy="420.3" r="5.1"/><circle cx="732.1" cy="375.1" r="5.1"/><circle cx="686.8" cy="396.2" r="5.1"/><circle cx="701.2" cy="396.1" r="5.1"/><circle cx="707" cy="415.8" r="5.1"/><circle cx="690" cy="421.7" r="5.1"/><circle cx="714.5" cy="402" r="5.1"/><circle cx="757.1" cy="377.1" r="5.1"/><circle cx="687.9" cy="430.8" r="5.1"/><circle cx="680.3" cy="445.1" r="5.1"/><circle cx="675.2" cy="418.8" r="5.1"/><circle cx="700.8" cy="415.1" r="5.1"/><circle cx="707.9" cy="394.5" r="5.1"/><circle cx="714.4" cy="393.8" r="5.1"/><circle cx="685.7" cy="426.5" r="5.1"/><circle cx="680.4" cy="428" r="5.1"/><circle cx="679.3" cy="432.2" r="5.1"/><circle cx="695.1" cy="419.5" r="5.1"/><circle cx="692.8" cy="424.5" r="5.1"/><circle cx="731.4" cy="396.4" r="5.1"/><circle cx="674.6" cy="428.3" r="5.1"/><circle cx="672.7" cy="445.6" r="5.1"/><circle cx="701.4" cy="433.6" r="5.1"/><circle cx="620.5" cy="463.8" r="5.1"/><circle cx="724.7" cy="417.8" r="5.1"/><circle cx="677.4" cy="421.5" r="5.1"/><circle cx="650.7" cy="458" r="5.1"/><circle cx="669.9" cy="436.4" r="5.1"/><circle cx="651.1" cy="435.4" r="5.1"/><circle cx="695.8" cy="412.4" r="5.1"/><circle cx="691.3" cy="446.2" r="5.1"/><circle cx="695.6" cy="433.4" r="5.1"/><circle cx="699.6" cy="424.5" r="5.1"/><circle cx="691.6" cy="421.8" r="5.1"/><circle cx="718.3" cy="391.3" r="5.1"/><circle cx="674.8" cy="430.8" r="5.1"/><circle cx="735.1" cy="383.3" r="5.1"/><circle cx="681.5" cy="427.6" r="5.1"/><circle cx="690.9" cy="407.7" r="5.1"/><circle cx="700.2" cy="408.6" r="5.1"/><circle cx="753.5" cy="394.6" r="5.1"/><circle cx="674.5" cy="452.7" r="5.1"/><circle cx="660.4" cy="429.5" r="5.1"/><circle cx="706.5" cy="388.4" r="5.1"/><circle cx="651" cy="457.9" r="5.1"/><circle cx="734.7" cy="376.8" r="5.1"/><circle cx="721" cy="388.1" r="5.1"/><circle cx="700.2" cy="413.5" r="5.1"/><circle cx="700.1" cy="402.7" r="5.1"/><circle cx="695.4" cy="412.5" r="5.1"/><circle cx="734.9" cy="404" r="5.1"/><circle cx="681" cy="419.2" r="5.1"/><circle cx="692.9" cy="420.3" r="5.1"/><circle cx="750.7" cy="373.7" r="5.1"/><circle cx="689.1" cy="406.9" r="5.1"/><circle cx="761" cy="386.1" r="5.1"/><circle cx="683" cy="423.6" r="5.1"/><circle cx="683.8" cy="397" r="5.1"/><circle cx="712.2" cy="410.2" r="5.1"/><circle cx="711.4" cy="415.8" r="5.1"/><circle cx="684.5" cy="422.6" r="5.1"/><circle cx="757.8" cy="402.7" r="5.1"/><circle cx="709.6" cy="389.8" r="5.1"/><circle cx="717.5" cy="377.2" r="5.1"/><circle cx="710.4" cy="404.5" r="5.1"/><circle cx="696.1" cy="426.9" r="5.1"/><circle cx="739.4" cy="401.7" r="5.1"/><circle cx="696.3" cy="422.6" r="5.1"/><circle cx="680.1" cy="455.1" r="5.1"/><circle cx="690" cy="418.5" r="5.1"/><circle cx="702.9" cy="400.8" r="5.1"/><circle cx="695.4" cy="424.7" r="5.1"/><circle cx="706.9" cy="400.3" r="5.1"/><circle cx="677.2" cy="448.2" r="5.1"/><circle cx="674.3" cy="417.5" r="5.1"/><circle cx="723.8" cy="408.5" r="5.1"/><circle cx="702.1" cy="401.4" r="5.1"/><circle cx="731.9" cy="400.1" r="5.1"/><circle cx="693.5" cy="400" r="5.1"/><circle cx="758.4" cy="354.4" r="5.1"/><circle cx="671.4" cy="427.2" r="5.1"/><circle cx="692" cy="419.6" r="5.1"/><circle cx="650.5" cy="459.4" r="5.1"/><circle cx="670.5" cy="404.5" r="5.1"/><circle cx="692.2" cy="414.6" r="5.1"/><circle cx="671.6" cy="449.9" r="5.1"/><circle cx="663.8" cy="419.2" r="5.1"/><circle cx="696.2" cy="384.1" r="5.1"/><circle cx="678.8" cy="431.9" r="5.1"/><circle cx="621.3" cy="463.4" r="5.1"/><circle cx="618.1" cy="445.2" r="5.1"/><circle cx="651.5" cy="450" r="5.1"/><circle cx="629.5" cy="474" r="5.1"/><circle cx="642.3" cy="435.8" r="5.1"/><circle cx="678.4" cy="453.1" r="5.1"/><circle cx="611.7" cy="478.3" r="5.1"/><circle cx="655.9" cy="467.1" r="5.1"/><circle cx="688.8" cy="428" r="5.1"/><circle cx="674.2" cy="445.3" r="5.1"/><circle cx="653.4" cy="457.1" r="5.1"/><circle cx="621.7" cy="458.9" r="5.1"/><circle cx="683.1" cy="459.7" r="5.1"/><circle cx="673.9" cy="413.9" r="5.1"/><circle cx="678" cy="408.5" r="5.1"/><circle cx="662.6" cy="442.5" r="5.1"/><circle cx="631" cy="480.3" r="5.1"/><circle cx="615" cy="491" r="5.1"/><circle cx="678.3" cy="422.4" r="5.1"/><circle cx="706.4" cy="410.4" r="5.1"/><circle cx="640.5" cy="449.7" r="5.1"/><circle cx="666.3" cy="407.6" r="5.1"/><circle cx="730.7" cy="378.8" r="5.1"/><circle cx="636" cy="470.1" r="5.1"/><circle cx="676.6" cy="445.8" r="5.1"/><circle cx="686.8" cy="413.6" r="5.1"/><circle cx="696.5" cy="415.4" r="5.1"/><circle cx="643.8" cy="470.5" r="5.1"/><circle cx="667" cy="415.5" r="5.1"/><circle cx="719" cy="386.5" r="5.1"/><circle cx="681.9" cy="417.1" r="5.1"/><circle cx="696" cy="396.4" r="5.1"/><circle cx="697" cy="446.9" r="5.1"/><circle cx="700" cy="410.1" r="5.1"/><circle cx="656.7" cy="437" r="5.1"/><circle cx="679.6" cy="431.9" r="5.1"/><circle cx="619.1" cy="470" r="5.1"/><circle cx="687.8" cy="426.2" r="5.1"/><circle cx="622.2" cy="461.7" r="5.1"/><circle cx="692.8" cy="418.7" r="5.1"/><circle cx="683.8" cy="434.4" r="5.1"/><circle cx="650.7" cy="441.1" r="5.1"/><circle cx="659.9" cy="441" r="5.1"/><circle cx="770.4" cy="356.3" r="5.1"/><circle cx="675" cy="463.5" r="5.1"/><circle cx="673.7" cy="421.2" r="5.1"/><circle cx="649.2" cy="455.9" r="5.1"/><circle cx="601.8" cy="473.7" r="5.1"/><circle cx="652.6" cy="436.9" r="5.1"/><circle cx="712.6" cy="411.5" r="5.1"/><circle cx="700.9" cy="411.9" r="5.1"/><circle cx="664.5" cy="446.2" r="5.1"/><circle cx="644.7" cy="431.4" r="5.1"/><circle cx="697.7" cy="436.8" r="5.1"/><circle cx="696.6" cy="432.6" r="5.1"/><circle cx="624.7" cy="446.5" r="5.1"/><circle cx="631.6" cy="442.1" r="5.1"/><circle cx="676.9" cy="416.4" r="5.1"/><circle cx="686.5" cy="405.4" r="5.1"/><circle cx="681.4" cy="419.2" r="5.1"/><circle cx="678.4" cy="411.9" r="5.1"/><circle cx="658.8" cy="426.7" r="5.1"/><circle cx="716.9" cy="406.7" r="5.1"/><circle cx="684.3" cy="437.1" r="5.1"/><circle cx="662" cy="438.2" r="5.1"/><circle cx="660.3" cy="460.1" r="5.1"/><circle cx="669.9" cy="434.1" r="5.1"/><circle cx="680.7" cy="417.3" r="5.1"/><circle cx="616.5" cy="448.2" r="5.1"/><circle cx="665.5" cy="454.5" r="5.1"/><circle cx="659.4" cy="436.6" r="5.1"/><circle cx="697.4" cy="425.4" r="5.1"/><circle cx="675.6" cy="462.5" r="5.1"/><circle cx="676" cy="435.4" r="5.1"/><circle cx="657.6" cy="429.8" r="5.1"/><circle cx="725.7" cy="380.9" r="5.1"/><circle cx="646.9" cy="425.5" r="5.1"/><circle cx="660.6" cy="444.6" r="5.1"/><circle cx="653" cy="440.7" r="5.1"/><circle cx="687.7" cy="422.8" r="5.1"/><circle cx="664.4" cy="443.9" r="5.1"/><circle cx="658.5" cy="427.7" r="5.1"/><circle cx="654.9" cy="450.4" r="5.1"/><circle cx="664.4" cy="454.8" r="5.1"/><circle cx="663.8" cy="468.1" r="5.1"/><circle cx="683.3" cy="418.7" r="5.1"/><circle cx="661.6" cy="415.1" r="5.1"/><circle cx="645.7" cy="443.9" r="5.1"/><circle cx="685.4" cy="436.7" r="5.1"/><circle cx="663.4" cy="425.8" r="5.1"/><circle cx="672.7" cy="430.5" r="5.1"/><circle cx="713.5" cy="404" r="5.1"/><circle cx="619.8" cy="484.8" r="5.1"/><circle cx="696.2" cy="421.9" r="5.1"/><circle cx="637.9" cy="494.9" r="5.1"/><circle cx="680.7" cy="403.2" r="5.1"/><circle cx="632.6" cy="501.9" r="5.1"/><circle cx="686" cy="436.4" r="5.1"/><circle cx="661.9" cy="448.8" r="5.1"/><circle cx="643.3" cy="447.6" r="5.1"/><circle cx="698.8" cy="411.3" r="5.1"/><circle cx="653.9" cy="429.7" r="5.1"/><circle cx="667.5" cy="428.7" r="5.1"/><circle cx="642.4" cy="444.4" r="5.1"/><circle cx="693.4" cy="398.3" r="5.1"/><circle cx="671.7" cy="428.3" r="5.1"/><circle cx="653.3" cy="432.9" r="5.1"/><circle cx="694.4" cy="401.4" r="5.1"/><circle cx="659.1" cy="466.8" r="5.1"/><circle cx="668.8" cy="442" r="5.1"/><circle cx="648.2" cy="441.4" r="5.1"/><circle cx="699.5" cy="410.3" r="5.1"/><circle cx="704.5" cy="406.9" r="5.1"/><circle cx="641.3" cy="467.5" r="5.1"/><circle cx="660.1" cy="431.9" r="5.1"/><circle cx="698.7" cy="415.5" r="5.1"/><circle cx="701.5" cy="430.7" r="5.1"/><circle cx="667.4" cy="412.4" r="5.1"/><circle cx="684.3" cy="409" r="5.1"/><circle cx="613.8" cy="505.5" r="5.1"/><circle cx="644.7" cy="436.6" r="5.1"/><circle cx="720" cy="414.5" r="5.1"/><circle cx="641.1" cy="475.2" r="5.1"/><circle cx="643.9" cy="445.2" r="5.1"/><circle cx="661.4" cy="409.7" r="5.1"/><circle cx="692.6" cy="434.2" r="5.1"/><circle cx="678" cy="434.7" r="5.1"/><circle cx="694.7" cy="404.4" r="5.1"/><circle cx="660.4" cy="428" r="5.1"/><circle cx="688.1" cy="426.7" r="5.1"/><circle cx="678.6" cy="419.4" r="5.1"/><circle cx="661.3" cy="455.4" r="5.1"/><circle cx="709.1" cy="410.7" r="5.1"/><circle cx="653" cy="440.7" r="5.1"/><circle cx="626.5" cy="466" r="5.1"/><circle cx="629.9" cy="472.2" r="5.1"/><circle cx="617.2" cy="486" r="5.1"/><circle cx="697.8" cy="421.7" r="5.1"/><circle cx="634.4" cy="430.7" r="5.1"/><circle cx="652" cy="423.2" r="5.1"/><circle cx="655.1" cy="473.5" r="5.1"/><circle cx="726.4" cy="406.7" r="5.1"/><circle cx="693.8" cy="400" r="5.1"/><circle cx="631.4" cy="462.3" r="5.1"/><circle cx="653.7" cy="437.7" r="5.1"/><circle cx="670.6" cy="459.4" r="5.1"/><circle cx="672.7" cy="422" r="5.1"/><circle cx="662.1" cy="432.7" r="5.1"/><circle cx="655" cy="448.5" r="5.1"/><circle cx="681.4" cy="427" r="5.1"/><circle cx="709.1" cy="394" r="5.1"/><circle cx="696.3" cy="406.7" r="5.1"/><circle cx="675.7" cy="454.1" r="5.1"/><circle cx="702.9" cy="384.2" r="5.1"/><circle cx="677.7" cy="436.6" r="5.1"/><circle cx="669.9" cy="416" r="5.1"/><circle cx="679.6" cy="448.2" r="5.1"/><circle cx="665.9" cy="453.8" r="5.1"/><circle cx="665" cy="456.6" r="5.1"/><circle cx="644.8" cy="428.2" r="5.1"/><circle cx="702.4" cy="443.8" r="5.1"/><circle cx="641.7" cy="464.5" r="5.1"/><circle cx="659.4" cy="469" r="5.1"/><circle cx="697.6" cy="447.1" r="5.1"/><circle cx="691.8" cy="410.2" r="5.1"/><circle cx="660" cy="455.7" r="5.1"/><circle cx="672.8" cy="432.8" r="5.1"/><circle cx="608.3" cy="501.5" r="5.1"/><circle cx="686.9" cy="427.8" r="5.1"/><circle cx="658.6" cy="462.6" r="5.1"/><circle cx="649.9" cy="464.5" r="5.1"/><circle cx="754.6" cy="402" r="5.1"/><circle cx="716.9" cy="397" r="5.1"/><circle cx="677.4" cy="428.8" r="5.1"/><circle cx="659.7" cy="415.9" r="5.1"/><circle cx="686.3" cy="426.8" r="5.1"/><circle cx="667.4" cy="435.6" r="5.1"/><circle cx="636.9" cy="465.5" r="5.1"/><circle cx="652.4" cy="438.3" r="5.1"/><circle cx="689" cy="457.4" r="5.1"/><circle cx="664.4" cy="423.6" r="5.1"/><circle cx="632.3" cy="483.8" r="5.1"/><circle cx="701" cy="418.6" r="5.1"/><circle cx="657.6" cy="467.3" r="5.1"/><circle cx="676.1" cy="443" r="5.1"/><circle cx="677.4" cy="424.7" r="5.1"/><circle cx="692.1" cy="428" r="5.1"/><circle cx="655.3" cy="446.7" r="5.1"/><circle cx="668.1" cy="435.6" r="5.1"/><circle cx="655.2" cy="451.6" r="5.1"/><circle cx="653.5" cy="458.9" r="5.1"/><circle cx="675.7" cy="413" r="5.1"/><circle cx="655" cy="437.2" r="5.1"/><circle cx="681.4" cy="427.6" r="5.1"/><circle cx="691.4" cy="432.7" r="5.1"/><circle cx="687.9" cy="419.8" r="5.1"/><circle cx="566.6" cy="501.3" r="5.1"/><circle cx="689" cy="389.8" r="5.1"/><circle cx="639.3" cy="456.5" r="5.1"/><circle cx="681.6" cy="446.6" r="5.1"/><circle cx="707" cy="404.2" r="5.1"/><circle cx="647.2" cy="474" r="5.1"/><circle cx="658.5" cy="403.1" r="5.1"/><circle cx="735.7" cy="436.6" r="5.1"/><circle cx="616.5" cy="461.9" r="5.1"/><circle cx="667.8" cy="450.1" r="5.1"/><circle cx="689.1" cy="422.6" r="5.1"/><circle cx="679.7" cy="426.1" r="5.1"/><circle cx="638.4" cy="435.5" r="5.1"/><circle cx="657.3" cy="425.9" r="5.1"/><circle cx="691.8" cy="421.8" r="5.1"/><circle cx="675.2" cy="434.6" r="5.1"/><circle cx="615.8" cy="479.9" r="5.1"/><circle cx="683.9" cy="456.5" r="5.1"/><circle cx="626.3" cy="447.8" r="5.1"/><circle cx="695.3" cy="447.6" r="5.1"/><circle cx="684.9" cy="428.1" r="5.1"/><circle cx="700.3" cy="422.5" r="5.1"/><circle cx="664.4" cy="454.5" r="5.1"/><circle cx="676.4" cy="435.2" r="5.1"/><circle cx="651.3" cy="456.2" r="5.1"/><circle cx="648.4" cy="441" r="5.1"/><circle cx="640" cy="485.4" r="5.1"/><circle cx="485.6" cy="476" r="5.1"/><circle cx="515.1" cy="463.6" r="5.1"/><circle cx="515.1" cy="460.1" r="5.1"/><circle cx="523.9" cy="458.3" r="5.1"/><circle cx="578.4" cy="481.1" r="5.1"/><circle cx="595.1" cy="408.4" r="5.1"/><circle cx="619.2" cy="405.1" r="5.1"/><circle cx="623.5" cy="504.1" r="5.1"/><circle cx="671.8" cy="499.6" r="5.1"/><circle cx="593.3" cy="463.7" r="5.1"/><circle cx="593.3" cy="478.2" r="5.1"/><circle cx="655.1" cy="397.5" r="5.1"/><circle cx="725.3" cy="439.1" r="5.1"/><circle cx="798.5" cy="365.1" r="5.1"/><circle cx="798.3" cy="336" r="5.1"/><circle cx="785" cy="318.9" r="5.1"/><circle cx="791.2" cy="318.9" r="5.1"/><circle cx="785" cy="329.8" r="5.1"/><circle cx="783" cy="337" r="5.1"/><circle cx="758.5" cy="337" r="5.1"/><circle cx="748.3" cy="335.2" r="5.1"/><circle cx="754.4" cy="340.7" r="5.1"/><circle cx="762.6" cy="341.6" r="5.1"/><circle cx="784" cy="351.5" r="5.1"/><circle cx="770.8" cy="355.1" r="5.1"/><circle cx="766.7" cy="349.7" r="5.1"/><circle cx="750.4" cy="356.9" r="5.1"/><circle cx="756.5" cy="366" r="5.1"/><circle cx="603.5" cy="465.6" r="5.1"/><circle cx="617.8" cy="489.1" r="5.1"/><circle cx="607.6" cy="483.7" r="5.1"/><circle cx="648.4" cy="485.5" r="5.1"/><circle cx="654.5" cy="487.3" r="5.1"/><circle cx="640.2" cy="478.2" r="5.1"/><circle cx="628" cy="474.6" r="5.1"/><circle cx="668.8" cy="474.6" r="5.1"/></g>
<polygon points="485.8,552.8 498.8,544.4 511.8,535.9 524.9,527.4 537.9,519 550.9,510.5 564,502 577,493.6 590,485.1 603,476.6 616.1,468.1 629.1,459.6 642.1,451.1 655.2,442.5 668.2,433.9 681.2,425.2 694.3,416.3 707.3,407.3 720.3,398.2 733.4,389.1 746.4,379.9 759.4,370.7 772.4,361.5 785.5,352.3 798.5,343 798.5,350.2 785.5,358.7 772.4,367.2 759.4,375.7 746.4,384.2 733.4,392.7 720.3,401.3 707.3,409.9 694.3,418.6 681.2,427.5 668.2,436.5 655.2,445.5 642.1,454.7 629.1,463.9 616.1,473.1 603,482.3 590,491.5 577,500.7 564,510 550.9,519.2 537.9,528.4 524.9,537.7 511.8,546.9 498.8,556.2 485.8,565.4" fill="#d6d6d6" fill-opacity="0.6"/>
<line x1="485.8" y1="559.1" x2="798.5" y2="346.6" stroke="#0000ee" stroke-width="2.1"/>
<rect x="470" y="306" width="345" height="274" fill="none" stroke="#8f8f8f" stroke-width="1.1"/>
<line x1="528" y1="580" x2="528" y2="583" stroke="#333" stroke-width="0.8"/>
<text x="528" y="596" text-anchor="middle" font-family="Liberation Serif,serif" font-size="14.5" fill="#111">0</text>
<line x1="630" y1="580" x2="630" y2="583" stroke="#333" stroke-width="0.8"/>
<text x="630" y="596" text-anchor="middle" font-family="Liberation Serif,serif" font-size="14.5" fill="#111">5</text>
<line x1="732" y1="580" x2="732" y2="583" stroke="#333" stroke-width="0.8"/>
<text x="732" y="596" text-anchor="middle" font-family="Liberation Serif,serif" font-size="14.5" fill="#111">10</text>
<line x1="467" y1="510.8" x2="470" y2="510.8" stroke="#333" stroke-width="0.8"/>
<text x="464" y="515.8" text-anchor="end" font-family="Liberation Serif,serif" font-size="14.5" fill="#111">0</text>
<line x1="467" y1="438.4" x2="470" y2="438.4" stroke="#333" stroke-width="0.8"/>
<text x="464" y="443.4" text-anchor="end" font-family="Liberation Serif,serif" font-size="14.5" fill="#111">4</text>
<line x1="467" y1="366" x2="470" y2="366" stroke="#333" stroke-width="0.8"/>
<text x="464" y="371" text-anchor="end" font-family="Liberation Serif,serif" font-size="14.5" fill="#111">8</text>
<text x="637" y="613.5" text-anchor="middle" font-family="Liberation Serif,serif" font-size="15.9" fill="#111">RNA expression</text>
<text transform="translate(452.5,450.5) rotate(-90)" text-anchor="middle" font-family="Liberation Serif,serif" font-size="16" fill="#111">Protein abundance</text>
<text x="475.7" y="320.4" font-family="Liberation Serif,serif" font-size="15" font-style="italic" fill="#111">R</text><text x="491.8" y="320.4" font-family="Liberation Serif,serif" font-size="15" fill="#111">=</text><text x="504.1" y="320.4" font-family="Liberation Serif,serif" font-size="15" fill="#111">0.85</text>
<rect x="1028.5" y="345.8" width="324.5" height="234.2" fill="#fff"/>
<line x1="1084.3" y1="345.8" x2="1084.3" y2="580" stroke="#f4f4f4" stroke-width="0.8"/>
<line x1="1191.9" y1="345.8" x2="1191.9" y2="580" stroke="#f4f4f4" stroke-width="0.8"/>
<line x1="1299.5" y1="345.8" x2="1299.5" y2="580" stroke="#f4f4f4" stroke-width="0.8"/>
<line x1="1028.5" y1="547.3" x2="1353" y2="547.3" stroke="#f4f4f4" stroke-width="0.8"/>
<line x1="1028.5" y1="492.1" x2="1353" y2="492.1" stroke="#f4f4f4" stroke-width="0.8"/>
<line x1="1028.5" y1="436.9" x2="1353" y2="436.9" stroke="#f4f4f4" stroke-width="0.8"/>
<line x1="1028.5" y1="381.7" x2="1353" y2="381.7" stroke="#f4f4f4" stroke-width="0.8"/>
<line x1="1030.5" y1="345.8" x2="1030.5" y2="580" stroke="#ececec" stroke-width="1"/>
<line x1="1138.1" y1="345.8" x2="1138.1" y2="580" stroke="#ececec" stroke-width="1"/>
<line x1="1245.7" y1="345.8" x2="1245.7" y2="580" stroke="#ececec" stroke-width="1"/>
<line x1="1028.5" y1="574.9" x2="1353" y2="574.9" stroke="#ececec" stroke-width="1"/>
<line x1="1028.5" y1="519.7" x2="1353" y2="519.7" stroke="#ececec" stroke-width="1"/>
<line x1="1028.5" y1="464.5" x2="1353" y2="464.5" stroke="#ececec" stroke-width="1"/>
<line x1="1028.5" y1="409.3" x2="1353" y2="409.3" stroke="#ececec" stroke-width="1"/>
<line x1="1028.5" y1="354.1" x2="1353" y2="354.1" stroke="#ececec" stroke-width="1"/>
<polygon points="1168.6,570.2 1152.6,569.4 1143.7,564 1135.9,558.5 1133.5,553 1131.1,547.6 1128.6,542.1 1126.2,536.6 1122.5,531.2 1118.2,525.7 1113.9,520.3 1109.7,514.8 1107.4,509.3 1105.9,503.9 1104.4,498.4 1103,492.9 1102,487.5 1102.6,482 1103.1,476.5 1103.6,471.1 1105.1,465.6 1110.4,460.1 1115.8,454.7 1121.1,449.2 1126.4,443.7 1130.1,438.3 1133.3,432.8 1136.5,427.4 1139.7,421.9 1142.9,416.4 1146.1,411 1148,405.5 1149.3,400 1150.7,394.6 1155.3,389.1 1163.6,383.6 1172,378.2 1185.8,372.7 1202.7,367.2 1219,361.8 1233.2,361 1309.9,361 1317,361.8 1322.7,367.2 1328,372.7 1332,378.2 1333.5,383.6 1335,389.1 1336.1,394.6 1336.7,400 1337.4,405.5 1337.3,411 1335.5,416.4 1333.8,421.9 1332,427.4 1330.2,432.8 1328.4,438.3 1326.6,443.7 1324.7,449.2 1322.8,454.7 1320.8,460.1 1318.9,465.6 1315.5,471.1 1311.8,476.5 1308.1,482 1304.3,487.5 1300.9,492.9 1297.5,498.4 1294.1,503.9 1290.7,509.3 1286.5,514.8 1280.7,520.3 1274.8,525.7 1269,531.2 1263.8,536.6 1260.4,542.1 1257,547.6 1253.6,553 1250.2,558.5 1234.2,564 1215.5,569.4 1193.7,570.2" fill="#ebebeb"/>
<g fill="#ebebeb" fill-opacity="1"><circle cx="1169.1" cy="375.7" r="5.2"/><circle cx="1115.2" cy="488.1" r="5.2"/><circle cx="1113.8" cy="449" r="5.2"/><circle cx="1300.8" cy="505.1" r="5.2"/><circle cx="1317.9" cy="444.5" r="5.2"/><circle cx="1153.6" cy="398.2" r="5.2"/><circle cx="1277.4" cy="522.1" r="5.2"/><circle cx="1239.8" cy="487.2" r="5.2"/><circle cx="1085.6" cy="475.3" r="5.2"/><circle cx="1304.9" cy="357.5" r="5.2"/><circle cx="1142" cy="493.4" r="5.2"/><circle cx="1090.8" cy="448.2" r="5.2"/><circle cx="1253.2" cy="454.3" r="5.2"/><circle cx="1169.9" cy="375.7" r="5.2"/><circle cx="1202.5" cy="413" r="5.2"/><circle cx="1198.5" cy="571.7" r="5.2"/><circle cx="1127.3" cy="415.9" r="5.2"/><circle cx="1097.5" cy="495.9" r="5.2"/><circle cx="1269.9" cy="437" r="5.2"/><circle cx="1142.5" cy="549.3" r="5.2"/><circle cx="1224.4" cy="567.9" r="5.2"/><circle cx="1271.3" cy="427.6" r="5.2"/><circle cx="1191.3" cy="487.8" r="5.2"/><circle cx="1211.4" cy="419.4" r="5.2"/><circle cx="1246.1" cy="407.4" r="5.2"/><circle cx="1294.4" cy="454.9" r="5.2"/><circle cx="1214.1" cy="363.1" r="5.2"/><circle cx="1340.4" cy="373.6" r="5.2"/><circle cx="1179.3" cy="572" r="5.2"/><circle cx="1134.2" cy="422.6" r="5.2"/><circle cx="1276.4" cy="416.1" r="5.2"/><circle cx="1246.5" cy="497.9" r="5.2"/><circle cx="1239.6" cy="535.8" r="5.2"/><circle cx="1196.1" cy="369.4" r="5.2"/><circle cx="1147.4" cy="569.2" r="5.2"/><circle cx="1246.4" cy="396.1" r="5.2"/><circle cx="1211.1" cy="462.6" r="5.2"/><circle cx="1114.8" cy="456.5" r="5.2"/><circle cx="1128.7" cy="460" r="5.2"/><circle cx="1069.2" cy="482.2" r="5.2"/><circle cx="1145.1" cy="444.3" r="5.2"/><circle cx="1334.2" cy="442.3" r="5.2"/><circle cx="1194.7" cy="367.3" r="5.2"/><circle cx="1092.5" cy="508.3" r="5.2"/><circle cx="1252.6" cy="436.5" r="5.2"/><circle cx="1095.3" cy="471.9" r="5.2"/><circle cx="1110.4" cy="472.1" r="5.2"/><circle cx="1111.1" cy="523.4" r="5.2"/><circle cx="1256" cy="492.1" r="5.2"/><circle cx="1107.1" cy="458" r="5.2"/><circle cx="1294.7" cy="455" r="5.2"/><circle cx="1259.1" cy="458.7" r="5.2"/><circle cx="1294.3" cy="381.1" r="5.2"/><circle cx="1212.5" cy="367" r="5.2"/><circle cx="1338.3" cy="440.8" r="5.2"/><circle cx="1233.3" cy="436.5" r="5.2"/><circle cx="1140.2" cy="415.1" r="5.2"/><circle cx="1139.4" cy="399.8" r="5.2"/><circle cx="1172.9" cy="458.2" r="5.2"/><circle cx="1324.7" cy="475.4" r="5.2"/><circle cx="1237.7" cy="530.7" r="5.2"/><circle cx="1227.8" cy="358.9" r="5.2"/><circle cx="1243.4" cy="443.5" r="5.2"/><circle cx="1269.9" cy="491.2" r="5.2"/><circle cx="1202.5" cy="572.8" r="5.2"/><circle cx="1315.2" cy="494.5" r="5.2"/><circle cx="1331.1" cy="398.4" r="5.2"/><circle cx="1104" cy="520.9" r="5.2"/><circle cx="1198.7" cy="387.1" r="5.2"/><circle cx="1194.7" cy="441.1" r="5.2"/><circle cx="1231.6" cy="442.4" r="5.2"/><circle cx="1103.5" cy="519.8" r="5.2"/><circle cx="1141.8" cy="406.1" r="5.2"/><circle cx="1202.3" cy="492.7" r="5.2"/><circle cx="1092.2" cy="472.2" r="5.2"/><circle cx="1193" cy="436.4" r="5.2"/><circle cx="1273.3" cy="356.6" r="5.2"/><circle cx="1345.3" cy="440.4" r="5.2"/><circle cx="1235.2" cy="464" r="5.2"/><circle cx="1096" cy="492.1" r="5.2"/><circle cx="1147.8" cy="394.7" r="5.2"/><circle cx="1276.9" cy="404.9" r="5.2"/><circle cx="1271" cy="481.7" r="5.2"/><circle cx="1302.5" cy="484.4" r="5.2"/><circle cx="1262.2" cy="359.5" r="5.2"/><circle cx="1174.4" cy="571.6" r="5.2"/><circle cx="1178" cy="476" r="5.2"/><circle cx="1260" cy="560.8" r="5.2"/><circle cx="1255.9" cy="521.1" r="5.2"/><circle cx="1275.9" cy="445.1" r="5.2"/><circle cx="1270.6" cy="449.7" r="5.2"/><circle cx="1275.5" cy="443.9" r="5.2"/><circle cx="1151.8" cy="488.7" r="5.2"/><circle cx="1090.5" cy="489.2" r="5.2"/><circle cx="1311.1" cy="444.3" r="5.2"/><circle cx="1178.3" cy="404" r="5.2"/><circle cx="1234" cy="425.1" r="5.2"/><circle cx="1244.7" cy="363.3" r="5.2"/><circle cx="1132.1" cy="550.3" r="5.2"/><circle cx="1331.8" cy="526.3" r="5.2"/><circle cx="1110.1" cy="429.2" r="5.2"/><circle cx="1281.4" cy="378.1" r="5.2"/><circle cx="1173.5" cy="569.4" r="5.2"/><circle cx="1264.6" cy="443" r="5.2"/><circle cx="1089.5" cy="503.3" r="5.2"/><circle cx="1129.2" cy="427.7" r="5.2"/><circle cx="1219.2" cy="458" r="5.2"/><circle cx="1123.4" cy="464.2" r="5.2"/><circle cx="1344.6" cy="423.1" r="5.2"/><circle cx="1300.1" cy="356" r="5.2"/><circle cx="1118.7" cy="420.3" r="5.2"/><circle cx="1288.7" cy="523" r="5.2"/><circle cx="1273.4" cy="538.4" r="5.2"/><circle cx="1117.5" cy="454.7" r="5.2"/><circle cx="1123.7" cy="557.3" r="5.2"/><circle cx="1273.6" cy="537.2" r="5.2"/><circle cx="1248.2" cy="427.2" r="5.2"/><circle cx="1224.4" cy="442.4" r="5.2"/><circle cx="1127.6" cy="560.9" r="5.2"/><circle cx="1286.5" cy="365.9" r="5.2"/><circle cx="1133.4" cy="432.9" r="5.2"/><circle cx="1225.7" cy="479.6" r="5.2"/><circle cx="1107.4" cy="521.4" r="5.2"/><circle cx="1285.2" cy="443.1" r="5.2"/><circle cx="1241.6" cy="564.1" r="5.2"/><circle cx="1206.3" cy="366.9" r="5.2"/><circle cx="1137.9" cy="562.6" r="5.2"/><circle cx="1346.9" cy="380.2" r="5.2"/><circle cx="1151.9" cy="379.8" r="5.2"/><circle cx="1232.9" cy="407.6" r="5.2"/><circle cx="1326.2" cy="441.5" r="5.2"/><circle cx="1227.9" cy="567.8" r="5.2"/><circle cx="1166.1" cy="452.5" r="5.2"/><circle cx="1102.4" cy="516.4" r="5.2"/><circle cx="1243" cy="544.1" r="5.2"/><circle cx="1189.3" cy="533.6" r="5.2"/><circle cx="1239.8" cy="415.5" r="5.2"/><circle cx="1327.2" cy="366.9" r="5.2"/><circle cx="1296.2" cy="510.4" r="5.2"/><circle cx="1285.6" cy="498" r="5.2"/><circle cx="1235" cy="361.6" r="5.2"/><circle cx="1193.8" cy="495.7" r="5.2"/><circle cx="1239.9" cy="423.7" r="5.2"/><circle cx="1184.8" cy="562.8" r="5.2"/><circle cx="1139.3" cy="477.9" r="5.2"/><circle cx="1271.5" cy="371.2" r="5.2"/><circle cx="1266.4" cy="355.9" r="5.2"/><circle cx="1324.7" cy="361.1" r="5.2"/><circle cx="1266.6" cy="491.9" r="5.2"/><circle cx="1298.7" cy="419.5" r="5.2"/><circle cx="1272" cy="430.2" r="5.2"/><circle cx="1325.6" cy="464.3" r="5.2"/><circle cx="1149.7" cy="485.1" r="5.2"/><circle cx="1288.7" cy="407" r="5.2"/><circle cx="1238.7" cy="459.2" r="5.2"/><circle cx="1123.5" cy="527.9" r="5.2"/><circle cx="1194.8" cy="451.4" r="5.2"/><circle cx="1262.6" cy="547.9" r="5.2"/><circle cx="1133.4" cy="444.5" r="5.2"/><circle cx="1285.7" cy="395.7" r="5.2"/><circle cx="1270.1" cy="389.3" r="5.2"/><circle cx="1190.4" cy="496.1" r="5.2"/><circle cx="1258.3" cy="426.4" r="5.2"/><circle cx="1179.9" cy="539.4" r="5.2"/><circle cx="1103.7" cy="535.2" r="5.2"/><circle cx="1286.5" cy="466.4" r="5.2"/><circle cx="1119.1" cy="537.6" r="5.2"/><circle cx="1282.8" cy="386.6" r="5.2"/><circle cx="1235.1" cy="357.2" r="5.2"/><circle cx="1274" cy="508.8" r="5.2"/><circle cx="1123.4" cy="491.5" r="5.2"/><circle cx="1309.7" cy="496.7" r="5.2"/><circle cx="1221" cy="389" r="5.2"/><circle cx="1306.6" cy="378.6" r="5.2"/><circle cx="1242.1" cy="474.4" r="5.2"/><circle cx="1168" cy="455.3" r="5.2"/><circle cx="1227.1" cy="458.4" r="5.2"/><circle cx="1270.9" cy="376.6" r="5.2"/><circle cx="1291.2" cy="518" r="5.2"/><circle cx="1287.5" cy="491.5" r="5.2"/><circle cx="1159.8" cy="531.2" r="5.2"/><circle cx="1246.8" cy="492.7" r="5.2"/><circle cx="1226.8" cy="368.5" r="5.2"/><circle cx="1160.3" cy="437.5" r="5.2"/><circle cx="1176.1" cy="559.8" r="5.2"/><circle cx="1336.9" cy="367.7" r="5.2"/><circle cx="1113.5" cy="527.7" r="5.2"/><circle cx="1156.9" cy="565.2" r="5.2"/><circle cx="1168.9" cy="437.4" r="5.2"/><circle cx="1262.1" cy="549.5" r="5.2"/><circle cx="1250.1" cy="357" r="5.2"/><circle cx="1334.9" cy="390.1" r="5.2"/><circle cx="1271.3" cy="436.3" r="5.2"/><circle cx="1090.2" cy="481.4" r="5.2"/><circle cx="1206.7" cy="447.2" r="5.2"/><circle cx="1099.8" cy="499.3" r="5.2"/><circle cx="1231.2" cy="452.4" r="5.2"/><circle cx="1199.1" cy="514.3" r="5.2"/><circle cx="1164.1" cy="471.2" r="5.2"/><circle cx="1187.3" cy="555" r="5.2"/><circle cx="1172" cy="381.7" r="5.2"/><circle cx="1107.2" cy="488.7" r="5.2"/><circle cx="1151.3" cy="511" r="5.2"/><circle cx="1223.4" cy="373.8" r="5.2"/><circle cx="1230.1" cy="458.7" r="5.2"/><circle cx="1154.9" cy="492.2" r="5.2"/><circle cx="1167.5" cy="424.3" r="5.2"/><circle cx="1116.7" cy="468.2" r="5.2"/><circle cx="1147.6" cy="427" r="5.2"/><circle cx="1184.7" cy="480" r="5.2"/><circle cx="1099.1" cy="466.5" r="5.2"/><circle cx="1271.7" cy="408.7" r="5.2"/><circle cx="1099" cy="467" r="5.2"/><circle cx="1182.6" cy="511" r="5.2"/><circle cx="1209.5" cy="364.3" r="5.2"/><circle cx="1249.2" cy="379.5" r="5.2"/><circle cx="1290.6" cy="397.4" r="5.2"/><circle cx="1279.9" cy="370.9" r="5.2"/><circle cx="1288.8" cy="370.8" r="5.2"/><circle cx="1235.5" cy="477.7" r="5.2"/><circle cx="1263" cy="368.2" r="5.2"/><circle cx="1298.4" cy="411.3" r="5.2"/><circle cx="1249" cy="482.2" r="5.2"/><circle cx="1209.5" cy="488.1" r="5.2"/><circle cx="1212.7" cy="487.4" r="5.2"/><circle cx="1279.7" cy="370.7" r="5.2"/><circle cx="1272" cy="518.8" r="5.2"/><circle cx="1282.4" cy="529.8" r="5.2"/><circle cx="1172" cy="396" r="5.2"/><circle cx="1334" cy="438.4" r="5.2"/><circle cx="1196.9" cy="520.3" r="5.2"/><circle cx="1261.8" cy="472.3" r="5.2"/><circle cx="1165.6" cy="388.4" r="5.2"/><circle cx="1226.5" cy="358.6" r="5.2"/><circle cx="1182.3" cy="534.9" r="5.2"/><circle cx="1212.8" cy="388.1" r="5.2"/><circle cx="1324.3" cy="417.7" r="5.2"/><circle cx="1266.4" cy="492" r="5.2"/><circle cx="1233.7" cy="476.4" r="5.2"/><circle cx="1284.3" cy="436.3" r="5.2"/><circle cx="1342.6" cy="413.6" r="5.2"/><circle cx="1291.3" cy="356" r="5.2"/><circle cx="1183.9" cy="562" r="5.2"/><circle cx="1265.9" cy="436.7" r="5.2"/><circle cx="1200.5" cy="433.1" r="5.2"/><circle cx="1199.1" cy="485.3" r="5.2"/><circle cx="1282.2" cy="383.4" r="5.2"/><circle cx="1245.7" cy="463.4" r="5.2"/><circle cx="1297.4" cy="508.9" r="5.2"/><circle cx="1116.6" cy="374" r="5.2"/><circle cx="1235.8" cy="357.9" r="5.2"/><circle cx="1145.8" cy="416.3" r="5.2"/><circle cx="1121.5" cy="453" r="5.2"/><circle cx="1124.3" cy="548.7" r="5.2"/><circle cx="1209.8" cy="527.6" r="5.2"/><circle cx="1124.6" cy="507.1" r="5.2"/><circle cx="1231.2" cy="562" r="5.2"/><circle cx="1186" cy="381.7" r="5.2"/><circle cx="1170.6" cy="555.4" r="5.2"/><circle cx="1279.8" cy="442.3" r="5.2"/><circle cx="1264.1" cy="356" r="5.2"/><circle cx="1159.7" cy="402.4" r="5.2"/><circle cx="1095.7" cy="457.3" r="5.2"/><circle cx="1220.2" cy="371.4" r="5.2"/><circle cx="1246.6" cy="550.4" r="5.2"/><circle cx="1170.4" cy="514.2" r="5.2"/><circle cx="1170.4" cy="523" r="5.2"/><circle cx="1319.3" cy="423.8" r="5.2"/><circle cx="1249.2" cy="505.9" r="5.2"/><circle cx="1191" cy="426.3" r="5.2"/><circle cx="1165.8" cy="531" r="5.2"/><circle cx="1077.8" cy="412.6" r="5.2"/><circle cx="1077.8" cy="482.8" r="5.2"/><circle cx="1120.4" cy="463.6" r="5.2"/><circle cx="1323.4" cy="443.2" r="5.2"/><circle cx="1188" cy="504.2" r="5.2"/><circle cx="1172.2" cy="428" r="5.2"/><circle cx="1228.2" cy="540.6" r="5.2"/><circle cx="1191.3" cy="570.9" r="5.2"/><circle cx="1155.8" cy="536.6" r="5.2"/><circle cx="1201.4" cy="479.7" r="5.2"/><circle cx="1175.8" cy="382.9" r="5.2"/><circle cx="1190.7" cy="392.3" r="5.2"/><circle cx="1169" cy="445.7" r="5.2"/><circle cx="1316.3" cy="436.4" r="5.2"/><circle cx="1313.4" cy="366.5" r="5.2"/><circle cx="1194.1" cy="571.2" r="5.2"/><circle cx="1117.4" cy="506.7" r="5.2"/><circle cx="1309.2" cy="426.6" r="5.2"/><circle cx="1302.6" cy="411.2" r="5.2"/><circle cx="1255.1" cy="558.2" r="5.2"/><circle cx="1276.7" cy="432.6" r="5.2"/><circle cx="1294.6" cy="422.8" r="5.2"/><circle cx="1196.4" cy="381.2" r="5.2"/><circle cx="1165.3" cy="436.8" r="5.2"/><circle cx="1213.7" cy="533.9" r="5.2"/><circle cx="1118.8" cy="439.4" r="5.2"/><circle cx="1286.5" cy="520.7" r="5.2"/><circle cx="1136.8" cy="433.2" r="5.2"/><circle cx="1125.1" cy="533.9" r="5.2"/><circle cx="1150.1" cy="571.5" r="5.2"/><circle cx="1178.6" cy="526.6" r="5.2"/><circle cx="1157" cy="571" r="5.2"/><circle cx="1244.3" cy="523.9" r="5.2"/><circle cx="1166.4" cy="549.6" r="5.2"/><circle cx="1123.6" cy="432" r="5.2"/><circle cx="1161" cy="520.5" r="5.2"/><circle cx="1319.8" cy="374.2" r="5.2"/><circle cx="1295.1" cy="422.9" r="5.2"/><circle cx="1203.6" cy="534.2" r="5.2"/><circle cx="1253.9" cy="415.2" r="5.2"/><circle cx="1308.2" cy="421.8" r="5.2"/><circle cx="1114.8" cy="530.1" r="5.2"/><circle cx="1144.5" cy="443.4" r="5.2"/><circle cx="1235.2" cy="446.2" r="5.2"/><circle cx="1293.9" cy="405.4" r="5.2"/><circle cx="1243.3" cy="560.5" r="5.2"/><circle cx="1287.7" cy="422.9" r="5.2"/><circle cx="1150.2" cy="495.2" r="5.2"/><circle cx="1141.9" cy="553.8" r="5.2"/><circle cx="1121" cy="471" r="5.2"/><circle cx="1169.3" cy="463.2" r="5.2"/><circle cx="1152.9" cy="503.8" r="5.2"/><circle cx="1181.8" cy="544.5" r="5.2"/><circle cx="1252.8" cy="361.5" r="5.2"/><circle cx="1301.3" cy="394.1" r="5.2"/><circle cx="1128.9" cy="476.5" r="5.2"/><circle cx="1222.3" cy="555.7" r="5.2"/><circle cx="1283.3" cy="449.7" r="5.2"/><circle cx="1313.2" cy="483.6" r="5.2"/><circle cx="1227.1" cy="411.1" r="5.2"/><circle cx="1267.6" cy="503.7" r="5.2"/><circle cx="1263.9" cy="400.8" r="5.2"/><circle cx="1260.7" cy="559.3" r="5.2"/><circle cx="1212.5" cy="560.8" r="5.2"/><circle cx="1161.9" cy="556.7" r="5.2"/><circle cx="1209.3" cy="546.3" r="5.2"/><circle cx="1299.9" cy="466.4" r="5.2"/><circle cx="1269.3" cy="464.9" r="5.2"/><circle cx="1269" cy="517.1" r="5.2"/><circle cx="1172.6" cy="544.6" r="5.2"/><circle cx="1146" cy="456.2" r="5.2"/><circle cx="1318.3" cy="479.5" r="5.2"/><circle cx="1120.8" cy="519.3" r="5.2"/><circle cx="1205.2" cy="450.3" r="5.2"/><circle cx="1161.8" cy="510.3" r="5.2"/><circle cx="1210.7" cy="440.6" r="5.2"/><circle cx="1193.8" cy="455" r="5.2"/><circle cx="1222.1" cy="426.6" r="5.2"/><circle cx="1109.7" cy="450.6" r="5.2"/><circle cx="1252.6" cy="376.6" r="5.2"/><circle cx="1311.3" cy="433.4" r="5.2"/><circle cx="1303.4" cy="457" r="5.2"/><circle cx="1262.2" cy="507.3" r="5.2"/><circle cx="1334.5" cy="401.5" r="5.2"/><circle cx="1190.6" cy="445.5" r="5.2"/><circle cx="1178.3" cy="408.2" r="5.2"/><circle cx="1104.1" cy="508.8" r="5.2"/><circle cx="1188.1" cy="462.8" r="5.2"/><circle cx="1134.5" cy="527" r="5.2"/><circle cx="1300.7" cy="400.8" r="5.2"/><circle cx="1278.8" cy="527.7" r="5.2"/><circle cx="1230.9" cy="557.3" r="5.2"/><circle cx="1251.5" cy="525.9" r="5.2"/><circle cx="1290.1" cy="470.1" r="5.2"/><circle cx="1226.8" cy="390.7" r="5.2"/><circle cx="1253.1" cy="420.2" r="5.2"/><circle cx="1205" cy="445" r="5.2"/><circle cx="1149.5" cy="538.3" r="5.2"/><circle cx="1105.7" cy="463.2" r="5.2"/><circle cx="1169.9" cy="479.3" r="5.2"/><circle cx="1330.7" cy="455.3" r="5.2"/><circle cx="1221.7" cy="362.4" r="5.2"/><circle cx="1305.5" cy="437.9" r="5.2"/><circle cx="1239.6" cy="359.8" r="5.2"/><circle cx="1239.5" cy="377.5" r="5.2"/><circle cx="1289.4" cy="502.1" r="5.2"/><circle cx="1330.2" cy="376.2" r="5.2"/><circle cx="1282.1" cy="449.3" r="5.2"/><circle cx="1231.2" cy="470.5" r="5.2"/><circle cx="1184.9" cy="424.8" r="5.2"/><circle cx="1176.8" cy="517.7" r="5.2"/><circle cx="1279.4" cy="478.1" r="5.2"/><circle cx="1171.2" cy="486.1" r="5.2"/><circle cx="1229.4" cy="487.4" r="5.2"/><circle cx="1128.7" cy="542.8" r="5.2"/><circle cx="1247.5" cy="455.9" r="5.2"/><circle cx="1211.5" cy="515.8" r="5.2"/><circle cx="1221.7" cy="448.9" r="5.2"/><circle cx="1293.9" cy="389.7" r="5.2"/><circle cx="1101.4" cy="512.7" r="5.2"/><circle cx="1167.4" cy="359" r="5.2"/><circle cx="1168.4" cy="565.9" r="5.2"/><circle cx="1228.5" cy="415.8" r="5.2"/><circle cx="1278.5" cy="488.1" r="5.2"/><circle cx="1290.1" cy="418.2" r="5.2"/><circle cx="1286" cy="378.3" r="5.2"/><circle cx="1309" cy="505.7" r="5.2"/><circle cx="1185.6" cy="371.1" r="5.2"/><circle cx="1214.2" cy="546.3" r="5.2"/><circle cx="1238.9" cy="523.1" r="5.2"/><circle cx="1191.2" cy="463.9" r="5.2"/><circle cx="1279.3" cy="503.6" r="5.2"/><circle cx="1101.7" cy="465.3" r="5.2"/><circle cx="1233.1" cy="391.4" r="5.2"/><circle cx="1270.9" cy="423.2" r="5.2"/><circle cx="1309.2" cy="358.2" r="5.2"/><circle cx="1279.3" cy="456.2" r="5.2"/><circle cx="1263.1" cy="410.9" r="5.2"/><circle cx="1174.6" cy="564.4" r="5.2"/><circle cx="1181.4" cy="445.6" r="5.2"/><circle cx="1313.9" cy="483.3" r="5.2"/><circle cx="1275" cy="522.9" r="5.2"/><circle cx="1263.3" cy="547.1" r="5.2"/><circle cx="1287.3" cy="396" r="5.2"/><circle cx="1195" cy="447.1" r="5.2"/><circle cx="1190.8" cy="564.2" r="5.2"/><circle cx="1335.2" cy="383" r="5.2"/><circle cx="1260.3" cy="360.9" r="5.2"/><circle cx="1133.3" cy="450" r="5.2"/><circle cx="1267.5" cy="503.5" r="5.2"/><circle cx="1169" cy="412.1" r="5.2"/><circle cx="1344.5" cy="407.6" r="5.2"/><circle cx="1244.5" cy="434" r="5.2"/><circle cx="1157.1" cy="548.7" r="5.2"/><circle cx="1219.9" cy="423.4" r="5.2"/><circle cx="1280.4" cy="366.2" r="5.2"/><circle cx="1263.3" cy="418.5" r="5.2"/><circle cx="1176.3" cy="444.7" r="5.2"/><circle cx="1108.1" cy="459.1" r="5.2"/><circle cx="1171.3" cy="504.1" r="5.2"/><circle cx="1170" cy="533.9" r="5.2"/><circle cx="1245.4" cy="468.8" r="5.2"/><circle cx="1227.8" cy="547.9" r="5.2"/><circle cx="1314.1" cy="482.6" r="5.2"/><circle cx="1213.2" cy="454.6" r="5.2"/><circle cx="1143.3" cy="503.3" r="5.2"/><circle cx="1311.2" cy="413.7" r="5.2"/><circle cx="1283.3" cy="470.2" r="5.2"/><circle cx="1299.8" cy="383.1" r="5.2"/><circle cx="1155.8" cy="518.8" r="5.2"/><circle cx="1246.6" cy="516.2" r="5.2"/><circle cx="1295.9" cy="375.6" r="5.2"/><circle cx="1128.9" cy="522.2" r="5.2"/><circle cx="1147.4" cy="548.4" r="5.2"/><circle cx="1276.8" cy="470.4" r="5.2"/><circle cx="1114.9" cy="502" r="5.2"/><circle cx="1245.5" cy="480.2" r="5.2"/><circle cx="1181.9" cy="372.3" r="5.2"/><circle cx="1133.5" cy="487.4" r="5.2"/><circle cx="1254.6" cy="388.5" r="5.2"/><circle cx="1150.8" cy="441.7" r="5.2"/><circle cx="1098.4" cy="478.2" r="5.2"/><circle cx="1193.4" cy="418.5" r="5.2"/><circle cx="1110.6" cy="484.1" r="5.2"/><circle cx="1136.7" cy="419.4" r="5.2"/><circle cx="1275.3" cy="529" r="5.2"/><circle cx="1342.3" cy="402" r="5.2"/><circle cx="1160.5" cy="541.7" r="5.2"/><circle cx="1101" cy="473.5" r="5.2"/><circle cx="1207.6" cy="431.8" r="5.2"/><circle cx="1145.6" cy="406.9" r="5.2"/><circle cx="1291.9" cy="455.4" r="5.2"/><circle cx="1094.7" cy="458.3" r="5.2"/><circle cx="1213.7" cy="374.8" r="5.2"/><circle cx="1151.1" cy="436" r="5.2"/><circle cx="1133.5" cy="536" r="5.2"/><circle cx="1155.7" cy="449.4" r="5.2"/><circle cx="1228.6" cy="531.4" r="5.2"/><circle cx="1238.3" cy="375.6" r="5.2"/><circle cx="1262" cy="524.2" r="5.2"/><circle cx="1185.3" cy="452.1" r="5.2"/><circle cx="1218.9" cy="555" r="5.2"/><circle cx="1176.5" cy="506.2" r="5.2"/><circle cx="1154.9" cy="458.4" r="5.2"/><circle cx="1204" cy="389" r="5.2"/><circle cx="1179.3" cy="393.7" r="5.2"/><circle cx="1318.9" cy="397.6" r="5.2"/><circle cx="1284.4" cy="356.4" r="5.2"/><circle cx="1336.7" cy="418.5" r="5.2"/><circle cx="1319.6" cy="457.6" r="5.2"/><circle cx="1287.4" cy="470.3" r="5.2"/><circle cx="1188.9" cy="513.5" r="5.2"/><circle cx="1243.8" cy="368.3" r="5.2"/><circle cx="1139" cy="521" r="5.2"/><circle cx="1341" cy="395.2" r="5.2"/><circle cx="1317.6" cy="408.4" r="5.2"/><circle cx="1183.4" cy="474" r="5.2"/><circle cx="1238.3" cy="495.6" r="5.2"/><circle cx="1181.6" cy="491.5" r="5.2"/><circle cx="1301.3" cy="443.1" r="5.2"/><circle cx="1144.4" cy="464.7" r="5.2"/><circle cx="1170.5" cy="390.9" r="5.2"/><circle cx="1283.8" cy="513.7" r="5.2"/><circle cx="1277" cy="511.8" r="5.2"/><circle cx="1230.7" cy="521.4" r="5.2"/><circle cx="1220.5" cy="381.3" r="5.2"/><circle cx="1198.6" cy="473.2" r="5.2"/><circle cx="1243.1" cy="557.9" r="5.2"/><circle cx="1244.6" cy="413" r="5.2"/><circle cx="1262.1" cy="482" r="5.2"/><circle cx="1223.1" cy="402.8" r="5.2"/><circle cx="1297.6" cy="448" r="5.2"/><circle cx="1263.8" cy="537.2" r="5.2"/><circle cx="1231.8" cy="382.8" r="5.2"/><circle cx="1153.7" cy="466.8" r="5.2"/><circle cx="1329.8" cy="428.2" r="5.2"/><circle cx="1167" cy="564.4" r="5.2"/><circle cx="1257.3" cy="478.4" r="5.2"/><circle cx="1160.2" cy="502" r="5.2"/><circle cx="1275.8" cy="462.9" r="5.2"/><circle cx="1178.4" cy="571.8" r="5.2"/><circle cx="1136.1" cy="497.2" r="5.2"/><circle cx="1321.5" cy="360.2" r="5.2"/><circle cx="1209.8" cy="501.8" r="5.2"/><circle cx="1295.6" cy="360.1" r="5.2"/><circle cx="1117.6" cy="532.9" r="5.2"/><circle cx="1102.9" cy="496.1" r="5.2"/><circle cx="1313.7" cy="462" r="5.2"/><circle cx="1177.1" cy="448.1" r="5.2"/><circle cx="1296.4" cy="409.3" r="5.2"/><circle cx="1224.9" cy="422.7" r="5.2"/><circle cx="1223.2" cy="419.7" r="5.2"/><circle cx="1181.9" cy="423.3" r="5.2"/><circle cx="1305.2" cy="450.2" r="5.2"/><circle cx="1283.2" cy="480.1" r="5.2"/><circle cx="1168.4" cy="494" r="5.2"/><circle cx="1194.9" cy="506.8" r="5.2"/><circle cx="1201.6" cy="465.1" r="5.2"/><circle cx="1300.9" cy="421.7" r="5.2"/><circle cx="1291.1" cy="509.2" r="5.2"/><circle cx="1131.8" cy="408.6" r="5.2"/><circle cx="1327.6" cy="393.4" r="5.2"/><circle cx="1155.1" cy="440.2" r="5.2"/><circle cx="1197.2" cy="400.1" r="5.2"/><circle cx="1213.1" cy="538.4" r="5.2"/><circle cx="1271.9" cy="431.5" r="5.2"/><circle cx="1184.6" cy="394.3" r="5.2"/><circle cx="1287.4" cy="385" r="5.2"/><circle cx="1203" cy="374.6" r="5.2"/><circle cx="1232.4" cy="496.3" r="5.2"/><circle cx="1201.3" cy="544.2" r="5.2"/><circle cx="1248.7" cy="446" r="5.2"/><circle cx="1317.8" cy="359.2" r="5.2"/><circle cx="1301.9" cy="489.6" r="5.2"/><circle cx="1285" cy="421.2" r="5.2"/><circle cx="1200.7" cy="507.1" r="5.2"/><circle cx="1317.2" cy="465.8" r="5.2"/><circle cx="1158" cy="472.1" r="5.2"/><circle cx="1202.9" cy="538.1" r="5.2"/><circle cx="1140.5" cy="485.1" r="5.2"/><circle cx="1156.7" cy="430.5" r="5.2"/><circle cx="1168.8" cy="513" r="5.2"/><circle cx="1201.1" cy="403.2" r="5.2"/><circle cx="1283.7" cy="459.3" r="5.2"/><circle cx="1100.7" cy="501" r="5.2"/><circle cx="1203.3" cy="517" r="5.2"/><circle cx="1306.3" cy="478.5" r="5.2"/><circle cx="1267.4" cy="544.5" r="5.2"/><circle cx="1310.3" cy="523" r="5.2"/><circle cx="1108.3" cy="521.9" r="5.2"/><circle cx="1235.1" cy="418.5" r="5.2"/><circle cx="1262" cy="387.3" r="5.2"/><circle cx="1146.8" cy="504.7" r="5.2"/><circle cx="1118.2" cy="477.7" r="5.2"/><circle cx="1290.9" cy="477.9" r="5.2"/><circle cx="1204.9" cy="451.8" r="5.2"/><circle cx="1162.6" cy="381.3" r="5.2"/><circle cx="1222.8" cy="397.5" r="5.2"/><circle cx="1214.7" cy="412.3" r="5.2"/><circle cx="1165.5" cy="411" r="5.2"/><circle cx="1191.7" cy="415.5" r="5.2"/><circle cx="1246.4" cy="532.1" r="5.2"/><circle cx="1192.1" cy="382.2" r="5.2"/><circle cx="1320.2" cy="389.3" r="5.2"/><circle cx="1335.4" cy="435.5" r="5.2"/><circle cx="1252.6" cy="544.3" r="5.2"/><circle cx="1188.9" cy="442.1" r="5.2"/><circle cx="1110.4" cy="478.3" r="5.2"/><circle cx="1154.9" cy="478.7" r="5.2"/><circle cx="1259.8" cy="431.1" r="5.2"/><circle cx="1277.5" cy="491" r="5.2"/><circle cx="1260" cy="410.1" r="5.2"/><circle cx="1147.8" cy="514.5" r="5.2"/><circle cx="1128.2" cy="467.3" r="5.2"/><circle cx="1287.7" cy="488.7" r="5.2"/><circle cx="1188" cy="483.1" r="5.2"/><circle cx="1292.2" cy="367.8" r="5.2"/><circle cx="1189.6" cy="399.6" r="5.2"/><circle cx="1158.6" cy="411.1" r="5.2"/><circle cx="1264.2" cy="403.3" r="5.2"/><circle cx="1144.9" cy="425.1" r="5.2"/><circle cx="1317.3" cy="418.5" r="5.2"/><circle cx="1237.5" cy="397.5" r="5.2"/><circle cx="1101.4" cy="486.4" r="5.2"/><circle cx="1154.5" cy="547.1" r="5.2"/><circle cx="1203.5" cy="423.1" r="5.2"/><circle cx="1188.6" cy="418.9" r="5.2"/><circle cx="1235.4" cy="559.5" r="5.2"/><circle cx="1257.6" cy="379.7" r="5.2"/><circle cx="1246.3" cy="491.3" r="5.2"/><circle cx="1334.7" cy="463.4" r="5.2"/><circle cx="1177.9" cy="466.9" r="5.2"/><circle cx="1260.5" cy="445.3" r="5.2"/><circle cx="1177.9" cy="448.7" r="5.2"/><circle cx="1203.1" cy="555" r="5.2"/><circle cx="1140.6" cy="544.9" r="5.2"/><circle cx="1141.3" cy="494.2" r="5.2"/><circle cx="1266.8" cy="528.8" r="5.2"/><circle cx="1101.2" cy="506.1" r="5.2"/><circle cx="1143.9" cy="520.1" r="5.2"/><circle cx="1222.1" cy="507.1" r="5.2"/><circle cx="1172.8" cy="421.3" r="5.2"/><circle cx="1249.5" cy="434.6" r="5.2"/><circle cx="1329.3" cy="425.2" r="5.2"/><circle cx="1179.9" cy="372.9" r="5.2"/><circle cx="1120.4" cy="540.7" r="5.2"/><circle cx="1260.9" cy="511.5" r="5.2"/><circle cx="1223.8" cy="520.4" r="5.2"/><circle cx="1146.1" cy="471.5" r="5.2"/><circle cx="1214.4" cy="503.2" r="5.2"/><circle cx="1164.2" cy="464.5" r="5.2"/><circle cx="1209.9" cy="379.5" r="5.2"/><circle cx="1281.4" cy="424.6" r="5.2"/><circle cx="1218" cy="538.2" r="5.2"/><circle cx="1261.5" cy="424.4" r="5.2"/><circle cx="1133.5" cy="482.6" r="5.2"/><circle cx="1133.7" cy="562.4" r="5.2"/><circle cx="1211.5" cy="481.1" r="5.2"/><circle cx="1235.9" cy="364.4" r="5.2"/><circle cx="1271.3" cy="456.6" r="5.2"/><circle cx="1299.8" cy="463.7" r="5.2"/><circle cx="1257" cy="397.6" r="5.2"/><circle cx="1220.5" cy="468.2" r="5.2"/><circle cx="1135.9" cy="556.4" r="5.2"/><circle cx="1310.3" cy="363.6" r="5.2"/><circle cx="1191.6" cy="570.9" r="5.2"/><circle cx="1314.1" cy="397.1" r="5.2"/><circle cx="1181.5" cy="399.7" r="5.2"/><circle cx="1276.6" cy="394.3" r="5.2"/><circle cx="1117.1" cy="443.2" r="5.2"/><circle cx="1185.6" cy="433" r="5.2"/><circle cx="1257" cy="485.7" r="5.2"/><circle cx="1127.3" cy="450.2" r="5.2"/><circle cx="1228.5" cy="509.4" r="5.2"/><circle cx="1220.9" cy="410.6" r="5.2"/><circle cx="1298.4" cy="441.2" r="5.2"/><circle cx="1130" cy="514.5" r="5.2"/><circle cx="1124.4" cy="447.1" r="5.2"/><circle cx="1146.4" cy="473.7" r="5.2"/><circle cx="1184" cy="523.4" r="5.2"/><circle cx="1138.2" cy="505.1" r="5.2"/><circle cx="1243.3" cy="408.2" r="5.2"/><circle cx="1169.2" cy="541.9" r="5.2"/><circle cx="1307.1" cy="466" r="5.2"/><circle cx="1112.3" cy="438" r="5.2"/><circle cx="1197.6" cy="558.9" r="5.2"/><circle cx="1276" cy="429.2" r="5.2"/><circle cx="1211" cy="484" r="5.2"/><circle cx="1215.8" cy="442.1" r="5.2"/><circle cx="1244.2" cy="391.4" r="5.2"/><circle cx="1236.5" cy="517.4" r="5.2"/><circle cx="1263.6" cy="384.3" r="5.2"/><circle cx="1146.7" cy="540.3" r="5.2"/><circle cx="1342.5" cy="380.3" r="5.2"/><circle cx="1193.3" cy="429.6" r="5.2"/><circle cx="1322.4" cy="396.2" r="5.2"/><circle cx="1095.2" cy="489.1" r="5.2"/><circle cx="1233.5" cy="544.7" r="5.2"/><circle cx="1257.7" cy="539.9" r="5.2"/><circle cx="1195.4" cy="538.8" r="5.2"/><circle cx="1281.7" cy="412.2" r="5.2"/><circle cx="1206.5" cy="562.8" r="5.2"/><circle cx="1309.5" cy="368.5" r="5.2"/><circle cx="1314.7" cy="386.4" r="5.2"/><circle cx="1285.9" cy="507.1" r="5.2"/><circle cx="1345.6" cy="392.9" r="5.2"/><circle cx="1241.2" cy="413.9" r="5.2"/><circle cx="1252" cy="513.7" r="5.2"/><circle cx="1129.3" cy="498.9" r="5.2"/><circle cx="1327.9" cy="384.1" r="5.2"/><circle cx="1322.1" cy="384.1" r="5.2"/><circle cx="1109.5" cy="498.2" r="5.2"/><circle cx="1221.4" cy="545.8" r="5.2"/><circle cx="1194.5" cy="470.7" r="5.2"/><circle cx="1299.2" cy="473.2" r="5.2"/><circle cx="1238.6" cy="392.3" r="5.2"/><circle cx="1319.2" cy="470.6" r="5.2"/><circle cx="1253.8" cy="532.5" r="5.2"/><circle cx="1180.8" cy="439.3" r="5.2"/><circle cx="1337.7" cy="370.7" r="5.2"/><circle cx="1136.7" cy="456.1" r="5.2"/><circle cx="1145.6" cy="481.4" r="5.2"/><circle cx="1254" cy="432.7" r="5.2"/><circle cx="1266.7" cy="418.1" r="5.2"/><circle cx="1302.3" cy="434.8" r="5.2"/><circle cx="1195.2" cy="555.1" r="5.2"/><circle cx="1105.1" cy="459.1" r="5.2"/><circle cx="1258.9" cy="520.3" r="5.2"/><circle cx="1254.7" cy="555.4" r="5.2"/><circle cx="1236.7" cy="468.1" r="5.2"/><circle cx="1148.4" cy="567.8" r="5.2"/><circle cx="1150.3" cy="450.3" r="5.2"/><circle cx="1279.8" cy="530.8" r="5.2"/><circle cx="1227.7" cy="514.6" r="5.2"/><circle cx="1181.6" cy="500.6" r="5.2"/><circle cx="1254" cy="405.3" r="5.2"/><circle cx="1228.3" cy="402.3" r="5.2"/><circle cx="1188.9" cy="523.3" r="5.2"/><circle cx="1286.8" cy="458.7" r="5.2"/><circle cx="1299.7" cy="429.9" r="5.2"/><circle cx="1182.8" cy="376.5" r="5.2"/><circle cx="1255.5" cy="367" r="5.2"/><circle cx="1246.6" cy="369.1" r="5.2"/><circle cx="1157.4" cy="492.6" r="5.2"/><circle cx="1233.6" cy="443.2" r="5.2"/><circle cx="1249.9" cy="558.7" r="5.2"/><circle cx="1182.3" cy="534.7" r="5.2"/><circle cx="1309.5" cy="491.1" r="5.2"/><circle cx="1264.2" cy="454.8" r="5.2"/><circle cx="1128.7" cy="555.3" r="5.2"/><circle cx="1195.9" cy="435.6" r="5.2"/><circle cx="1312.1" cy="385" r="5.2"/><circle cx="1299.2" cy="366.1" r="5.2"/><circle cx="1265.2" cy="481.8" r="5.2"/><circle cx="1323.9" cy="417.2" r="5.2"/><circle cx="1211.8" cy="414.4" r="5.2"/><circle cx="1135.4" cy="510.8" r="5.2"/><circle cx="1147.1" cy="398.8" r="5.2"/><circle cx="1246.2" cy="541.7" r="5.2"/><circle cx="1240.1" cy="503.4" r="5.2"/><circle cx="1140.7" cy="465.5" r="5.2"/><circle cx="1213.3" cy="468.1" r="5.2"/><circle cx="1208.4" cy="399.6" r="5.2"/><circle cx="1209.6" cy="553.2" r="5.2"/><circle cx="1189.4" cy="477.2" r="5.2"/><circle cx="1151.6" cy="414.1" r="5.2"/><circle cx="1217.4" cy="476.9" r="5.2"/><circle cx="1211.7" cy="570.6" r="5.2"/><circle cx="1111.3" cy="515.9" r="5.2"/><circle cx="1232.6" cy="504.7" r="5.2"/><circle cx="1241.1" cy="452.9" r="5.2"/><circle cx="1179.5" cy="552" r="5.2"/><circle cx="1124.9" cy="483.9" r="5.2"/><circle cx="1294.1" cy="512.6" r="5.2"/><circle cx="1303.2" cy="499.7" r="5.2"/><circle cx="1149.9" cy="406.3" r="5.2"/><circle cx="1271.3" cy="362.7" r="5.2"/><circle cx="1334.1" cy="428.4" r="5.2"/><circle cx="1225.9" cy="474.6" r="5.2"/><circle cx="1178.8" cy="430.4" r="5.2"/><circle cx="1197.2" cy="537.3" r="5.2"/><circle cx="1162.7" cy="386" r="5.2"/><circle cx="1166.2" cy="504.4" r="5.2"/><circle cx="1274.8" cy="498.8" r="5.2"/><circle cx="1330" cy="368.7" r="5.2"/><circle cx="1233.8" cy="372.4" r="5.2"/><circle cx="1174.7" cy="496.3" r="5.2"/><circle cx="1233.3" cy="549.3" r="5.2"/><circle cx="1269.9" cy="475" r="5.2"/><circle cx="1294.6" cy="481.7" r="5.2"/><circle cx="1255.7" cy="447.1" r="5.2"/><circle cx="1183.5" cy="387.2" r="5.2"/><circle cx="1345.5" cy="418" r="5.2"/><circle cx="1221.7" cy="564.9" r="5.2"/><circle cx="1290.4" cy="438.3" r="5.2"/><circle cx="1324.2" cy="365.3" r="5.2"/><circle cx="1188.1" cy="544.1" r="5.2"/><circle cx="1213" cy="395.7" r="5.2"/><circle cx="1150" cy="389.4" r="5.2"/><circle cx="1333.8" cy="413.8" r="5.2"/><circle cx="1132.5" cy="505.5" r="5.2"/><circle cx="1280" cy="388.7" r="5.2"/><circle cx="1322.8" cy="371" r="5.2"/><circle cx="1220.9" cy="495.6" r="5.2"/><circle cx="1224.7" cy="504.6" r="5.2"/><circle cx="1310.5" cy="453.7" r="5.2"/><circle cx="1227.5" cy="494" r="5.2"/><circle cx="1243.9" cy="430.8" r="5.2"/><circle cx="1291.2" cy="492.6" r="5.2"/><circle cx="1330.2" cy="419.1" r="5.2"/><circle cx="1185.6" cy="521" r="5.2"/><circle cx="1234.3" cy="437.2" r="5.2"/><circle cx="1161.6" cy="521.7" r="5.2"/><circle cx="1206" cy="524.3" r="5.2"/><circle cx="1219.5" cy="525.6" r="5.2"/><circle cx="1205.8" cy="408.9" r="5.2"/><circle cx="1181" cy="415.2" r="5.2"/><circle cx="1312.4" cy="454.2" r="5.2"/><circle cx="1256.8" cy="553.9" r="5.2"/><circle cx="1264.9" cy="396.3" r="5.2"/><circle cx="1228.8" cy="526.7" r="5.2"/><circle cx="1313.4" cy="405.5" r="5.2"/><circle cx="1224.3" cy="437.3" r="5.2"/><circle cx="1164.8" cy="423.8" r="5.2"/><circle cx="1141.1" cy="434.7" r="5.2"/><circle cx="1190.1" cy="491.1" r="5.2"/><circle cx="1222.9" cy="357.9" r="5.2"/><circle cx="1238.4" cy="513" r="5.2"/><circle cx="1154.9" cy="426" r="5.2"/><circle cx="1191.1" cy="369.3" r="5.2"/><circle cx="1198" cy="527" r="5.2"/><circle cx="1204" cy="398" r="5.2"/><circle cx="1230" cy="380.7" r="5.2"/><circle cx="1323.9" cy="405.2" r="5.2"/><circle cx="1180.1" cy="408.7" r="5.2"/><circle cx="1252.8" cy="535.1" r="5.2"/><circle cx="1319.7" cy="376.3" r="5.2"/><circle cx="1266.9" cy="496.9" r="5.2"/><circle cx="1287.7" cy="433" r="5.2"/><circle cx="1298.2" cy="496.1" r="5.2"/><circle cx="1141.6" cy="513.9" r="5.2"/><circle cx="1169.5" cy="537" r="5.2"/><circle cx="1331.5" cy="446.7" r="5.2"/><circle cx="1173.7" cy="376.7" r="5.2"/><circle cx="1156.1" cy="420.6" r="5.2"/><circle cx="1277.1" cy="358.3" r="5.2"/><circle cx="1165.9" cy="401.3" r="5.2"/><circle cx="1105.2" cy="483.7" r="5.2"/><circle cx="1206.6" cy="458.7" r="5.2"/><circle cx="1254.8" cy="503.6" r="5.2"/><circle cx="1319.7" cy="431.4" r="5.2"/><circle cx="1130.4" cy="433.3" r="5.2"/><circle cx="1229.9" cy="564.3" r="5.2"/><circle cx="1236.3" cy="382.7" r="5.2"/><circle cx="1149.1" cy="557.8" r="5.2"/><circle cx="1265.7" cy="516.5" r="5.2"/><circle cx="1247.5" cy="468.3" r="5.2"/><circle cx="1230.2" cy="538" r="5.2"/><circle cx="1177.1" cy="486.4" r="5.2"/><circle cx="1204.2" cy="441.9" r="5.2"/><circle cx="1159.8" cy="572.9" r="5.2"/><circle cx="1116.6" cy="511.3" r="5.2"/><circle cx="1325.6" cy="433.3" r="5.2"/><circle cx="1316.4" cy="396.5" r="5.2"/><circle cx="1179.1" cy="534.5" r="5.2"/><circle cx="1300.6" cy="388.8" r="5.2"/><circle cx="1223" cy="466.2" r="5.2"/><circle cx="1296.2" cy="487" r="5.2"/><circle cx="1257.3" cy="467.9" r="5.2"/><circle cx="1201.9" cy="567.8" r="5.2"/><circle cx="1243.8" cy="386.4" r="5.2"/><circle cx="1220.5" cy="511.9" r="5.2"/><circle cx="1163.7" cy="493.2" r="5.2"/><circle cx="1155.4" cy="519.9" r="5.2"/><circle cx="1138.4" cy="542.5" r="5.2"/><circle cx="1308.8" cy="471.3" r="5.2"/><circle cx="1161.8" cy="478" r="5.2"/><circle cx="1170.7" cy="470" r="5.2"/><circle cx="1220.8" cy="492.5" r="5.2"/><circle cx="1189.8" cy="407.9" r="5.2"/><circle cx="1218" cy="507.3" r="5.2"/><circle cx="1324.9" cy="471.4" r="5.2"/><circle cx="1348.7" cy="398.6" r="5.2"/><circle cx="1091.8" cy="405.5" r="5.2"/><circle cx="1308.9" cy="388.8" r="5.2"/><circle cx="1163.7" cy="444.2" r="5.2"/><circle cx="1288.3" cy="417" r="5.2"/><circle cx="1306.8" cy="419.2" r="5.2"/><circle cx="1228.8" cy="538.7" r="5.2"/><circle cx="1257.9" cy="499" r="5.2"/><circle cx="1160.3" cy="459.7" r="5.2"/><circle cx="1142.4" cy="530.5" r="5.2"/><circle cx="1216" cy="568.3" r="5.2"/><circle cx="1189.3" cy="546.7" r="5.2"/><circle cx="1242.3" cy="403.5" r="5.2"/><circle cx="1117.6" cy="494.2" r="5.2"/><circle cx="1107.5" cy="505.2" r="5.2"/><circle cx="1275.1" cy="491.8" r="5.2"/><circle cx="1198.4" cy="410.1" r="5.2"/><circle cx="1323.3" cy="449.1" r="5.2"/><circle cx="1151.6" cy="529.2" r="5.2"/><circle cx="1170.1" cy="401.3" r="5.2"/><circle cx="1313" cy="373.7" r="5.2"/><circle cx="1148.7" cy="560.4" r="5.2"/><circle cx="1214.7" cy="404.1" r="5.2"/><circle cx="1216.9" cy="520.5" r="5.2"/><circle cx="1169.5" cy="548.4" r="5.2"/><circle cx="1327.1" cy="459.4" r="5.2"/><circle cx="1253" cy="461.9" r="5.2"/><circle cx="1259.7" cy="375.7" r="5.2"/><circle cx="1344.2" cy="425" r="5.2"/><circle cx="1327.2" cy="413.6" r="5.2"/><circle cx="1258.1" cy="440.2" r="5.2"/><circle cx="1309.9" cy="397.7" r="5.2"/><circle cx="1221.1" cy="530.9" r="5.2"/><circle cx="1236.9" cy="434.5" r="5.2"/><circle cx="1138.8" cy="452.6" r="5.2"/><circle cx="1190.6" cy="529.6" r="5.2"/><circle cx="1214.9" cy="432" r="5.2"/><circle cx="1340.5" cy="430.2" r="5.2"/><circle cx="1128" cy="429.2" r="5.2"/><circle cx="1192.7" cy="543.4" r="5.2"/><circle cx="1335.2" cy="408.6" r="5.2"/><circle cx="1316.3" cy="379.2" r="5.2"/><circle cx="1225.8" cy="432.6" r="5.2"/><circle cx="1221.4" cy="385.4" r="5.2"/><circle cx="1181.9" cy="457.8" r="5.2"/><circle cx="1247.5" cy="477.4" r="5.2"/><circle cx="1143" cy="531.9" r="5.2"/><circle cx="1154.1" cy="553.4" r="5.2"/><circle cx="1159.9" cy="567" r="5.2"/><circle cx="1249.5" cy="397.5" r="5.2"/><circle cx="1273.5" cy="467.6" r="5.2"/><circle cx="1172.2" cy="413.2" r="5.2"/><circle cx="1215.7" cy="487.7" r="5.2"/><circle cx="1246.6" cy="422.8" r="5.2"/><circle cx="1197.7" cy="371.7" r="5.2"/><circle cx="1343.4" cy="409.4" r="5.2"/><circle cx="1326.3" cy="405.2" r="5.2"/><circle cx="1207.7" cy="472.2" r="5.2"/><circle cx="1133.7" cy="463.9" r="5.2"/><circle cx="1219.3" cy="485.5" r="5.2"/><circle cx="1139.2" cy="562.2" r="5.2"/><circle cx="1151.6" cy="464" r="5.2"/><circle cx="1203.3" cy="383.2" r="5.2"/><circle cx="1237" cy="493.1" r="5.2"/><circle cx="1293.4" cy="448.5" r="5.2"/><circle cx="1162.6" cy="568.8" r="5.2"/><circle cx="1127.7" cy="441.8" r="5.2"/><circle cx="1272.2" cy="511.9" r="5.2"/><circle cx="1271.3" cy="398.9" r="5.2"/><circle cx="1180.9" cy="468.8" r="5.2"/><circle cx="1200.3" cy="499.2" r="5.2"/><circle cx="1341.3" cy="390.5" r="5.2"/><circle cx="1303.4" cy="406.2" r="5.2"/><circle cx="1282.5" cy="402.7" r="5.2"/><circle cx="1159.4" cy="389.1" r="5.2"/><circle cx="1299.4" cy="363.9" r="5.2"/><circle cx="1182.6" cy="553.8" r="5.2"/><circle cx="1214.7" cy="451.9" r="5.2"/><circle cx="1177.8" cy="456.4" r="5.2"/><circle cx="1286.5" cy="432" r="5.2"/><circle cx="1305.6" cy="373.7" r="5.2"/><circle cx="1295.1" cy="437.5" r="5.2"/><circle cx="1174.8" cy="543.7" r="5.2"/><circle cx="1210.2" cy="426.6" r="5.2"/><circle cx="1315.4" cy="475.9" r="5.2"/><circle cx="1295.2" cy="501.9" r="5.2"/><circle cx="1239.4" cy="551.9" r="5.2"/><circle cx="1294.7" cy="465.9" r="5.2"/><circle cx="1136.8" cy="473.1" r="5.2"/><circle cx="1209.6" cy="509.5" r="5.2"/><circle cx="1144.3" cy="529.7" r="5.2"/><circle cx="1249.2" cy="377.1" r="5.2"/><circle cx="1315.4" cy="454.8" r="5.2"/><circle cx="1154.2" cy="559.6" r="5.2"/><circle cx="1326.9" cy="373.8" r="5.2"/><circle cx="1124.4" cy="517.7" r="5.2"/><circle cx="1159.8" cy="392.5" r="5.2"/><circle cx="1198.1" cy="553.1" r="5.2"/><circle cx="1208.8" cy="389.7" r="5.2"/><circle cx="1196.8" cy="458.6" r="5.2"/><circle cx="1193.3" cy="478.6" r="5.2"/><circle cx="1178.9" cy="489.8" r="5.2"/><circle cx="1130" cy="488.9" r="5.2"/><circle cx="1252.8" cy="475.5" r="5.2"/><circle cx="1259.9" cy="528.2" r="5.2"/><circle cx="1246.9" cy="357.6" r="5.2"/><circle cx="1158.6" cy="452.3" r="5.2"/><circle cx="1197.9" cy="392.7" r="5.2"/><circle cx="1210.3" cy="497.2" r="5.2"/><circle cx="1193.3" cy="495.7" r="5.2"/><circle cx="1120.9" cy="497.9" r="5.2"/><circle cx="1186.1" cy="469.1" r="5.2"/><circle cx="1291.2" cy="487.8" r="5.2"/><circle cx="1266.1" cy="462" r="5.2"/><circle cx="1120.1" cy="516.1" r="5.2"/><circle cx="1138.4" cy="417.1" r="5.2"/><circle cx="1191.1" cy="374.4" r="5.2"/><circle cx="1194.1" cy="454.2" r="5.2"/><circle cx="1114.5" cy="525.3" r="5.2"/><circle cx="1158.2" cy="484" r="5.2"/><circle cx="1241.7" cy="510.2" r="5.2"/><circle cx="1152.8" cy="525.3" r="5.2"/><circle cx="1256.4" cy="497.6" r="5.2"/><circle cx="1219" cy="359.8" r="5.2"/><circle cx="1234.8" cy="567.3" r="5.2"/><circle cx="1164.5" cy="418.5" r="5.2"/><circle cx="1176.9" cy="437.4" r="5.2"/><circle cx="1128.8" cy="525.7" r="5.2"/><circle cx="1199.3" cy="423.7" r="5.2"/><circle cx="1165.6" cy="483" r="5.2"/><circle cx="1126.5" cy="435.1" r="5.2"/><circle cx="1122.8" cy="481.7" r="5.2"/></g>
<line x1="1245.7" y1="345.8" x2="1245.7" y2="580" stroke="#777" stroke-width="1.1" stroke-dasharray="4,3"/>
<line x1="1028.5" y1="486.6" x2="1353" y2="486.6" stroke="#777" stroke-width="1.1" stroke-dasharray="4,3"/>
<line x1="1068.8" y1="533.5" x2="1338" y2="409.4" stroke="#0000ee" stroke-width="2.1"/>
<polygon points="1322.5,441.3 1332.8,459 1312.2,459" fill="#e8485f"/>
<rect x="1028.5" y="345.8" width="324.5" height="234.2" fill="none" stroke="#8f8f8f" stroke-width="1.1"/>
<line x1="1030.5" y1="580" x2="1030.5" y2="583" stroke="#333" stroke-width="0.8"/>
<text x="1030.5" y="596.5" text-anchor="middle" font-family="Liberation Serif,serif" font-size="14.5" fill="#111">-0.5</text>
<line x1="1138.1" y1="580" x2="1138.1" y2="583" stroke="#333" stroke-width="0.8"/>
<text x="1138.1" y="596.5" text-anchor="middle" font-family="Liberation Serif,serif" font-size="14.5" fill="#111">0.0</text>
<line x1="1245.7" y1="580" x2="1245.7" y2="583" stroke="#333" stroke-width="0.8"/>
<text x="1245.7" y="596.5" text-anchor="middle" font-family="Liberation Serif,serif" font-size="14.5" fill="#111">0.5</text>
<line x1="1025.5" y1="574.9" x2="1028.5" y2="574.9" stroke="#333" stroke-width="0.8"/>
<text x="1021" y="579.9" text-anchor="end" font-family="Liberation Serif,serif" font-size="14.5" fill="#111">0.00</text>
<line x1="1025.5" y1="519.7" x2="1028.5" y2="519.7" stroke="#333" stroke-width="0.8"/>
<text x="1021" y="524.7" text-anchor="end" font-family="Liberation Serif,serif" font-size="14.5" fill="#111">0.25</text>
<line x1="1025.5" y1="464.5" x2="1028.5" y2="464.5" stroke="#333" stroke-width="0.8"/>
<text x="1021" y="469.5" text-anchor="end" font-family="Liberation Serif,serif" font-size="14.5" fill="#111">0.50</text>
<line x1="1025.5" y1="409.3" x2="1028.5" y2="409.3" stroke="#333" stroke-width="0.8"/>
<text x="1021" y="414.3" text-anchor="end" font-family="Liberation Serif,serif" font-size="14.5" fill="#111">0.75</text>
<line x1="1025.5" y1="354.1" x2="1028.5" y2="354.1" stroke="#333" stroke-width="0.8"/>
<text x="1021" y="359.1" text-anchor="end" font-family="Liberation Serif,serif" font-size="14.5" fill="#111">1.00</text>
<text x="1178" y="614" text-anchor="middle" font-family="Liberation Serif,serif" font-size="14.3" fill="#111">mRNA-protein correlation (ProCan-DepMapSanger)</text>
<text transform="translate(988,469) rotate(-90)" text-anchor="middle" font-family="Liberation Serif,serif" font-size="14.3" fill="#111">Protein reproducibility rank</text>
<text x="1047.5" y="369.5" font-family="Liberation Serif,serif" font-size="14" font-style="italic" fill="#111">R</text><text x="1061.1" y="369.5" font-family="Liberation Serif,serif" font-size="14" fill="#111">=</text><text x="1073.1" y="369.5" font-family="Liberation Serif,serif" font-size="14" fill="#111">0.49</text>
<rect x="1089.5" y="305.7" width="202" height="30.3" fill="#fff" stroke="#a8a8a8" stroke-width="0.9"/>
<text x="1094.5" y="324.5" font-family="Liberation Serif,serif" font-size="9.5" fill="#111">Highlight</text>
<circle cx="1146.5" cy="320.8" r="5" fill="#ebebeb"/>
<text x="1158" y="324" font-family="Liberation Serif,serif" font-size="8" fill="#111">Background</text>
<polygon points="1214.5,310.5 1224.5,327.5 1204.5,327.5" fill="#e8485f"/>
<text x="1230" y="324" font-family="Liberation Serif,serif" font-size="8" fill="#111">Gene of interest</text>
<rect x="1546" y="306" width="344" height="274" fill="#fff"/>
<line x1="1553" y1="306" x2="1553" y2="580" stroke="#f4f4f4" stroke-width="0.8"/>
<line x1="1655" y1="306" x2="1655" y2="580" stroke="#f4f4f4" stroke-width="0.8"/>
<line x1="1757" y1="306" x2="1757" y2="580" stroke="#f4f4f4" stroke-width="0.8"/>
<line x1="1859" y1="306" x2="1859" y2="580" stroke="#f4f4f4" stroke-width="0.8"/>
<line x1="1546" y1="558.4" x2="1890" y2="558.4" stroke="#f4f4f4" stroke-width="0.8"/>
<line x1="1546" y1="456.6" x2="1890" y2="456.6" stroke="#f4f4f4" stroke-width="0.8"/>
<line x1="1546" y1="354.8" x2="1890" y2="354.8" stroke="#f4f4f4" stroke-width="0.8"/>
<line x1="1604" y1="306" x2="1604" y2="580" stroke="#ececec" stroke-width="1"/>
<line x1="1706" y1="306" x2="1706" y2="580" stroke="#ececec" stroke-width="1"/>
<line x1="1808" y1="306" x2="1808" y2="580" stroke="#ececec" stroke-width="1"/>
<line x1="1546" y1="507.5" x2="1890" y2="507.5" stroke="#ececec" stroke-width="1"/>
<line x1="1546" y1="405.7" x2="1890" y2="405.7" stroke="#ececec" stroke-width="1"/>
<polygon points="1561.8,530.8 1574.8,522.8 1587.8,514.9 1600.8,506.9 1613.9,498.9 1626.9,490.9 1639.9,482.9 1652.9,474.8 1665.9,466.8 1679,458.6 1692,450.5 1705,442.2 1718,433.9 1731.1,425.4 1744.1,416.7 1757.1,407.8 1770.1,398.6 1783.1,389.2 1796.2,379.7 1809.2,370 1822.2,360.2 1835.2,350.3 1848.3,340.4 1861.3,330.4 1874.3,320.4 1874.3,343.2 1861.3,351.2 1848.3,359.3 1835.2,367.4 1822.2,375.6 1809.2,383.9 1796.2,392.2 1783.1,400.7 1770.1,409.4 1757.1,418.3 1744.1,427.4 1731.1,436.8 1718,446.4 1705,456.1 1692,465.9 1679,475.7 1665.9,485.7 1652.9,495.6 1639.9,505.7 1626.9,515.7 1613.9,525.7 1600.8,535.8 1587.8,545.9 1574.8,556 1561.8,566.1" fill="#d6d6d6" fill-opacity="0.6"/>
<g fill="#6c9fbf" fill-opacity="0.55"><circle cx="1745.2" cy="434" r="5.1"/><circle cx="1782.9" cy="420.7" r="5.1"/><circle cx="1766.3" cy="431.8" r="5.1"/><circle cx="1791.7" cy="386.6" r="5.1"/><circle cx="1796.9" cy="390.9" r="5.1"/><circle cx="1777.4" cy="402.1" r="5.1"/><circle cx="1754.2" cy="413.3" r="5.1"/><circle cx="1743.6" cy="426.2" r="5.1"/><circle cx="1783.5" cy="394" r="5.1"/><circle cx="1760.9" cy="385.8" r="5.1"/><circle cx="1770.4" cy="410.2" r="5.1"/><circle cx="1772.5" cy="408.1" r="5.1"/><circle cx="1761.4" cy="413.9" r="5.1"/><circle cx="1810.6" cy="375.6" r="5.1"/><circle cx="1772.8" cy="394.5" r="5.1"/><circle cx="1810.4" cy="378.5" r="5.1"/><circle cx="1756.5" cy="385.6" r="5.1"/><circle cx="1739.5" cy="429.3" r="5.1"/><circle cx="1782.8" cy="369.5" r="5.1"/><circle cx="1749.9" cy="445.1" r="5.1"/><circle cx="1782.7" cy="401" r="5.1"/><circle cx="1761.3" cy="404.8" r="5.1"/><circle cx="1773.8" cy="398.1" r="5.1"/><circle cx="1760.4" cy="396.2" r="5.1"/><circle cx="1799.9" cy="382.8" r="5.1"/><circle cx="1760" cy="402.7" r="5.1"/><circle cx="1779" cy="409.4" r="5.1"/><circle cx="1759.9" cy="399.3" r="5.1"/><circle cx="1767.3" cy="409.5" r="5.1"/><circle cx="1773.6" cy="401.9" r="5.1"/><circle cx="1769.2" cy="426.1" r="5.1"/><circle cx="1804.9" cy="377.5" r="5.1"/><circle cx="1751.4" cy="405.9" r="5.1"/><circle cx="1775.5" cy="399.9" r="5.1"/><circle cx="1790.6" cy="364.3" r="5.1"/><circle cx="1780.5" cy="378.9" r="5.1"/><circle cx="1813.2" cy="385.4" r="5.1"/><circle cx="1758.6" cy="403.2" r="5.1"/><circle cx="1734.4" cy="431.6" r="5.1"/><circle cx="1795.6" cy="374.5" r="5.1"/><circle cx="1781.1" cy="417.5" r="5.1"/><circle cx="1817.2" cy="365.1" r="5.1"/><circle cx="1784.9" cy="388.1" r="5.1"/><circle cx="1734.2" cy="444.8" r="5.1"/><circle cx="1744.4" cy="400.2" r="5.1"/><circle cx="1752.3" cy="419" r="5.1"/><circle cx="1764" cy="401.7" r="5.1"/><circle cx="1779.5" cy="394.4" r="5.1"/><circle cx="1743.5" cy="457.5" r="5.1"/><circle cx="1772.6" cy="399.1" r="5.1"/><circle cx="1794.3" cy="388.2" r="5.1"/><circle cx="1756.8" cy="408.5" r="5.1"/><circle cx="1737.5" cy="438.1" r="5.1"/><circle cx="1748.7" cy="415.5" r="5.1"/><circle cx="1811.9" cy="366.4" r="5.1"/><circle cx="1792.5" cy="385.7" r="5.1"/><circle cx="1774.9" cy="405.6" r="5.1"/><circle cx="1763.5" cy="435.7" r="5.1"/><circle cx="1744.7" cy="435.9" r="5.1"/><circle cx="1786.3" cy="385.2" r="5.1"/><circle cx="1792.5" cy="370.9" r="5.1"/><circle cx="1763" cy="397" r="5.1"/><circle cx="1809.1" cy="376.9" r="5.1"/><circle cx="1791.4" cy="391" r="5.1"/><circle cx="1736.3" cy="426" r="5.1"/><circle cx="1752.5" cy="414.9" r="5.1"/><circle cx="1759.8" cy="407.5" r="5.1"/><circle cx="1725.6" cy="411.4" r="5.1"/><circle cx="1797" cy="389.2" r="5.1"/><circle cx="1750.7" cy="417.3" r="5.1"/><circle cx="1783" cy="390.2" r="5.1"/><circle cx="1777.4" cy="420.9" r="5.1"/><circle cx="1746.2" cy="405.4" r="5.1"/><circle cx="1774.1" cy="418.1" r="5.1"/><circle cx="1751.5" cy="433" r="5.1"/><circle cx="1748.4" cy="405.7" r="5.1"/><circle cx="1764.7" cy="395" r="5.1"/><circle cx="1773.1" cy="418.8" r="5.1"/><circle cx="1755.8" cy="387.8" r="5.1"/><circle cx="1753.4" cy="427.4" r="5.1"/><circle cx="1794.8" cy="385.7" r="5.1"/><circle cx="1769.1" cy="387.9" r="5.1"/><circle cx="1732.7" cy="425.1" r="5.1"/><circle cx="1747.3" cy="435.7" r="5.1"/><circle cx="1752.3" cy="403.1" r="5.1"/><circle cx="1729.9" cy="472.4" r="5.1"/><circle cx="1711.7" cy="429.2" r="5.1"/><circle cx="1751.7" cy="445" r="5.1"/><circle cx="1778" cy="414.7" r="5.1"/><circle cx="1710.1" cy="457.9" r="5.1"/><circle cx="1750.1" cy="401.2" r="5.1"/><circle cx="1751.8" cy="433.9" r="5.1"/><circle cx="1722" cy="471.7" r="5.1"/><circle cx="1731.1" cy="451" r="5.1"/><circle cx="1737.1" cy="458" r="5.1"/><circle cx="1722.8" cy="461.6" r="5.1"/><circle cx="1709.9" cy="475.5" r="5.1"/><circle cx="1713.4" cy="473.1" r="5.1"/><circle cx="1743.2" cy="431.1" r="5.1"/><circle cx="1707.7" cy="448.8" r="5.1"/><circle cx="1737.9" cy="412.1" r="5.1"/><circle cx="1728.9" cy="446.2" r="5.1"/><circle cx="1719.6" cy="447" r="5.1"/><circle cx="1741.8" cy="430.8" r="5.1"/><circle cx="1727.7" cy="434" r="5.1"/><circle cx="1734.2" cy="434.8" r="5.1"/><circle cx="1715" cy="448.9" r="5.1"/><circle cx="1713.8" cy="467.2" r="5.1"/><circle cx="1735.5" cy="402.9" r="5.1"/><circle cx="1751.2" cy="427.1" r="5.1"/><circle cx="1561.8" cy="468.8" r="5.1"/><circle cx="1654.4" cy="474.5" r="5.1"/><circle cx="1674.6" cy="479.4" r="5.1"/><circle cx="1693.8" cy="483.9" r="5.1"/><circle cx="1695.2" cy="389" r="5.1"/><circle cx="1831.3" cy="318.4" r="5.1"/><circle cx="1826.4" cy="332.4" r="5.1"/><circle cx="1874.5" cy="344.6" r="5.1"/><circle cx="1801.3" cy="351.7" r="5.1"/><circle cx="1803.9" cy="356.8" r="5.1"/><circle cx="1804.9" cy="357.9" r="5.1"/><circle cx="1826.4" cy="362.9" r="5.1"/><circle cx="1824.3" cy="365" r="5.1"/><circle cx="1724.4" cy="409.8" r="5.1"/><circle cx="1720.3" cy="422" r="5.1"/><circle cx="1726.4" cy="422" r="5.1"/><circle cx="1701.9" cy="438.3" r="5.1"/><circle cx="1706" cy="458.6" r="5.1"/><circle cx="1714.2" cy="468.8" r="5.1"/><circle cx="1720.3" cy="475.9" r="5.1"/><circle cx="1734.6" cy="471.9" r="5.1"/><circle cx="1724.4" cy="464.7" r="5.1"/><circle cx="1728.4" cy="464.7" r="5.1"/><circle cx="1736.6" cy="461.7" r="5.1"/><circle cx="1752.9" cy="455.6" r="5.1"/><circle cx="1755" cy="452.5" r="5.1"/><circle cx="1740.7" cy="396.5" r="5.1"/></g>
<line x1="1561.8" y1="548.4" x2="1874.3" y2="331.8" stroke="#0000ee" stroke-width="2.1"/>
<rect x="1546" y="306" width="344" height="274" fill="none" stroke="#8f8f8f" stroke-width="1.1"/>
<line x1="1604" y1="580" x2="1604" y2="583" stroke="#333" stroke-width="0.8"/>
<text x="1604" y="596" text-anchor="middle" font-family="Liberation Serif,serif" font-size="14.5" fill="#111">0</text>
<line x1="1706" y1="580" x2="1706" y2="583" stroke="#333" stroke-width="0.8"/>
<text x="1706" y="596" text-anchor="middle" font-family="Liberation Serif,serif" font-size="14.5" fill="#111">5</text>
<line x1="1808" y1="580" x2="1808" y2="583" stroke="#333" stroke-width="0.8"/>
<text x="1808" y="596" text-anchor="middle" font-family="Liberation Serif,serif" font-size="14.5" fill="#111">10</text>
<line x1="1543" y1="507.5" x2="1546" y2="507.5" stroke="#333" stroke-width="0.8"/>
<text x="1540" y="512.5" text-anchor="end" font-family="Liberation Serif,serif" font-size="14.5" fill="#111">0</text>
<line x1="1543" y1="405.7" x2="1546" y2="405.7" stroke="#333" stroke-width="0.8"/>
<text x="1540" y="410.7" text-anchor="end" font-family="Liberation Serif,serif" font-size="14.5" fill="#111">5</text>
<text x="1713" y="613.5" text-anchor="middle" font-family="Liberation Serif,serif" font-size="15.9" fill="#111">RNA expression</text>
<text transform="translate(1527.2,450.5) rotate(-90)" text-anchor="middle" font-family="Liberation Serif,serif" font-size="16" fill="#111">Protein abundance</text>
<text x="1551.7" y="320.4" font-family="Liberation Serif,serif" font-size="15" font-style="italic" fill="#111">R</text><text x="1567.8" y="320.4" font-family="Liberation Serif,serif" font-size="15" fill="#111">=</text><text x="1580.1" y="320.4" font-family="Liberation Serif,serif" font-size="15" fill="#111">0.86</text>
<path d="M462.4,979.2 C472.4,979.1 505.5,979.1 522.4,978.9 C539.4,978.6 550.1,978.7 563.9,977.9 C577.8,977 593.9,975.4 605.4,973.9 C616.9,972.3 623.9,971.1 633.1,968.6 C642.3,966 653.8,961.4 660.7,958.6 C667.7,955.8 670,954 674.6,951.6 C679.2,949.2 683.8,946.7 688.4,944 C693,941.2 697.5,938.3 702.2,935.3 C706.9,932.3 710.6,930.5 716.6,926 C722.7,921.5 730.5,913.6 738.5,908 C746.4,902.5 756.3,896.9 764.2,892.8 C772.1,888.6 777.8,885.8 785.8,883.4 C793.7,881.1 803.5,878.7 811.8,878.8 C820.1,878.9 828.7,881.3 835.6,884.1 C842.4,886.9 846.5,891.1 853,895.4 C859.5,899.7 867.4,904.4 874.6,910 C881.7,915.7 888.9,922.5 896.1,929.3 C903.3,936.2 910.5,944.4 917.7,951.3 C924.9,958.1 933.2,966.2 939.3,970.6 C945.3,974.9 949.6,975.8 953.9,977.2 C958.2,978.6 963.2,978.9 965,979.2 L965,979.2 L462.4,979.2 Z" fill="#f2f2f2" fill-opacity="1.0" stroke="#8f8f8f" stroke-width="1.2" stroke-linejoin="round"/>
<path d="M462.4,979.2 C472.4,979.2 507.8,979.3 522.4,979 C537.1,978.7 540.9,978.7 550.1,977.2 C559.3,975.7 569.9,972.4 577.8,969.9 C585.6,967.3 591.3,963.8 597.1,961.9 C603,960 606.9,958.4 612.9,958.6 C618.9,958.8 626,960.8 633.1,963.2 C640.1,965.7 648.3,970.8 655.2,973.2 C662.1,975.7 666.7,977 674.6,977.9 C682.4,978.8 694.1,978.6 702.2,978.5 C710.3,978.4 716.3,978.8 723.3,977.2 C730.2,975.7 736.5,973.2 743.7,969.2 C750.9,965.2 759,958 766.4,953.3 C773.8,948.5 780.8,943.8 788,940.6 C795.2,937.4 803.1,936.9 809.6,934 C816.1,931.1 821.2,930.5 827,923.3 C832.8,916.1 838.6,900.5 844.4,890.8 C850.2,881 855.8,870.9 861.6,864.8 C867.3,858.7 872.9,857.3 878.7,854.2 C884.5,851.1 891.9,847.5 896.1,846.2 C900.4,844.9 900.6,845.3 904.1,846.2 C907.7,847.1 911.8,844.9 917.7,851.5 C923.6,858.2 931.4,872.4 939.3,886.1 C947.2,899.8 960.7,926 965,934 L965,979.2 L462.4,979.2 Z" fill="#a8d658" fill-opacity="0.5" stroke="#9fcf50" stroke-width="1.2" stroke-linejoin="round"/>
<path d="M462.4,979.2 C486.3,979.2 572.4,979.3 605.4,979.2 C638.5,979.1 648.3,979 660.7,978.5 C673.2,978.1 673.3,978.2 680.1,976.5 C686.9,974.9 694.5,972 701.7,968.6 C708.9,965.1 716.4,959.3 723.3,955.9 C730.1,952.6 736.2,949.1 742.6,948.6 C749.1,948.2 755.1,950.7 762,953.3 C768.8,955.8 778.1,962.1 783.8,963.9 C789.6,965.7 791.5,966 796.6,963.9 C801.6,961.8 808.2,958.5 814,951.3 C819.8,944.1 824.9,932.2 831.4,920.7 C837.9,909.2 846.5,891.8 853,882.1 C859.4,872.5 864.7,867.1 870.1,862.8 C875.5,858.5 881,858.4 885.3,856.2 C889.7,854 890.7,851.9 896.1,849.5 C901.5,847.2 912.3,842.9 917.7,842.2 C923.1,841.5 924.9,842.4 928.5,845.5 C932.1,848.6 933.2,846.9 939.3,860.8 C945.4,874.8 960.7,917.9 965,929.3 L965,979.2 L462.4,979.2 Z" fill="#4daec5" fill-opacity="0.5" stroke="#52aac8" stroke-width="1.2" stroke-linejoin="round"/>
<path d="M462.4,979.2 C509.3,979.2 690.8,979.3 743.7,979.2 C796.6,979.1 770.5,980 779.7,978.5 C788.9,977.1 792.2,976.5 799,970.6 C805.9,964.6 814.2,953 820.6,942.6 C827.1,932.2 833.1,918.1 837.8,908 C842.4,898 845.3,889.3 848.6,882.1 C851.8,874.9 854.6,868.1 857.1,864.8 C859.7,861.5 861.6,862.4 863.8,862.2 C865.9,861.9 867.6,862.7 870.1,863.5 C872.6,864.3 875.8,866.9 878.7,866.8 C881.6,866.7 884.6,866 887.6,862.8 C890.5,859.6 892.9,855.8 896.1,847.5 C899.4,839.2 903.3,822.4 906.9,813 C910.5,803.5 914.9,795.3 917.7,791 C920.5,786.7 921.6,787 923.8,787 C926,787 928.1,786.7 930.7,791 C933.3,795.3 936,801 939.3,813 C942.5,824.9 945.8,842.7 950.1,862.8 C954.4,883 962.5,922.1 965,934 L965,979.2 L462.4,979.2 Z" fill="#bd2355" fill-opacity="0.5" stroke="#c8285a" stroke-width="1.2" stroke-linejoin="round"/>
<line x1="688.4" y1="786" x2="688.4" y2="981.2" stroke="#6e6e6e" stroke-width="2.3" stroke-dasharray="8.5,5.5"/>
<line x1="436.5" y1="778" x2="436.5" y2="989.5" stroke="#222" stroke-width="1.1"/>
<line x1="436" y1="989.5" x2="990" y2="989.5" stroke="#222" stroke-width="1.1"/>
<line x1="433" y1="979.2" x2="436.5" y2="979.2" stroke="#222" stroke-width="1"/>
<text x="429" y="986.2" text-anchor="end" font-family="Liberation Serif,serif" font-size="19.5" fill="#111">0</text>
<line x1="433" y1="912.7" x2="436.5" y2="912.7" stroke="#222" stroke-width="1"/>
<text x="429" y="919.7" text-anchor="end" font-family="Liberation Serif,serif" font-size="19.5" fill="#111">1</text>
<line x1="433" y1="846.2" x2="436.5" y2="846.2" stroke="#222" stroke-width="1"/>
<text x="429" y="853.2" text-anchor="end" font-family="Liberation Serif,serif" font-size="19.5" fill="#111">2</text>
<line x1="433" y1="779.7" x2="436.5" y2="779.7" stroke="#222" stroke-width="1"/>
<text x="429" y="786.7" text-anchor="end" font-family="Liberation Serif,serif" font-size="19.5" fill="#111">3</text>
<line x1="550.1" y1="989.5" x2="550.1" y2="993" stroke="#222" stroke-width="1"/>
<text x="550.1" y="1017" text-anchor="middle" font-family="Liberation Serif,serif" font-size="19.5" fill="#111">-0.5</text>
<line x1="688.4" y1="989.5" x2="688.4" y2="993" stroke="#222" stroke-width="1"/>
<text x="688.4" y="1017" text-anchor="middle" font-family="Liberation Serif,serif" font-size="19.5" fill="#111">0.0</text>
<line x1="826.7" y1="989.5" x2="826.7" y2="993" stroke="#222" stroke-width="1"/>
<text x="826.7" y="1017" text-anchor="middle" font-family="Liberation Serif,serif" font-size="19.5" fill="#111">0.5</text>
<line x1="965" y1="989.5" x2="965" y2="993" stroke="#222" stroke-width="1"/>
<text x="965" y="1017" text-anchor="middle" font-family="Liberation Serif,serif" font-size="19.5" fill="#111">1.0</text>
<text x="713.3" y="1044.5" text-anchor="middle" font-family="Liberation Serif,serif" font-size="19.9" fill="#111">mRNA-protein correlation across datasets</text>
<text transform="translate(408.5,883) rotate(-90)" text-anchor="middle" font-family="Liberation Serif,serif" font-size="19.5" fill="#111">Density</text>
<text x="447" y="764" font-family="Liberation Serif,serif" font-size="19.5" fill="#111">Dataset</text>
<rect x="518.7" y="751.5" width="31" height="7.5" fill="#f2f2f2" fill-opacity="1.0"/>
<line x1="518.7" y1="751.5" x2="549.7" y2="751.5" stroke="#8f8f8f" stroke-width="1.1"/>
<text class="nl" x="556.3" y="758.5" font-family="DejaVu Sans,sans-serif" font-size="9.3" fill="#222">Background</text>
<rect x="621.2" y="751.5" width="31" height="7.5" fill="#a8d658" fill-opacity="0.6"/>
<line x1="621.2" y1="751.5" x2="652.2" y2="751.5" stroke="#9fcf50" stroke-width="1.1"/>
<text class="nl" x="658.4" y="758.5" font-family="DejaVu Sans,sans-serif" font-size="9.3" fill="#222">CCLE</text>
<rect x="691.7" y="751.5" width="31" height="7.5" fill="#4daec5" fill-opacity="0.5"/>
<line x1="691.7" y1="751.5" x2="722.7" y2="751.5" stroke="#52aac8" stroke-width="1.1"/>
<text class="nl" x="728.3" y="758.5" font-family="DejaVu Sans,sans-serif" font-size="9.3" fill="#222">CPTAC</text>
<rect x="768.2" y="751.5" width="31" height="7.5" fill="#bd2355" fill-opacity="0.5"/>
<line x1="768.2" y1="751.5" x2="799.2" y2="751.5" stroke="#c8285a" stroke-width="1.1"/>
<text class="nl" x="805.1" y="758.5" font-family="DejaVu Sans,sans-serif" font-size="9.3" fill="#222">ProCan-DepMapSanger</text>
<rect x="1305" y="737.6" width="25.9" height="38.3" fill="#e8436a" stroke="#d98a94" stroke-width="0.6" stroke-opacity="0.6"/>
<rect x="1330.6" y="737.6" width="25.9" height="38.3" fill="#e95f69" stroke="#d98a94" stroke-width="0.6" stroke-opacity="0.6"/>
<rect x="1356.2" y="737.6" width="25.9" height="38.3" fill="#e83863" stroke="#d98a94" stroke-width="0.6" stroke-opacity="0.6"/>
<rect x="1381.9" y="737.6" width="25.9" height="38.3" fill="#eb7a6c" stroke="#d98a94" stroke-width="0.6" stroke-opacity="0.6"/>
<rect x="1407.5" y="737.6" width="25.9" height="38.3" fill="#e94a68" stroke="#d98a94" stroke-width="0.6" stroke-opacity="0.6"/>
<rect x="1433.1" y="737.6" width="25.9" height="38.3" fill="#ffffff" stroke="#e4e4e4" stroke-width="0.6" stroke-opacity="1"/>
<rect x="1458.7" y="737.6" width="25.9" height="38.3" fill="#e83863" stroke="#d98a94" stroke-width="0.6" stroke-opacity="0.6"/>
<rect x="1484.3" y="737.6" width="25.9" height="38.3" fill="#ffffff" stroke="#e4e4e4" stroke-width="0.6" stroke-opacity="1"/>
<rect x="1510" y="737.6" width="25.9" height="38.3" fill="#e84266" stroke="#d98a94" stroke-width="0.6" stroke-opacity="0.6"/>
<rect x="1535.6" y="737.6" width="25.9" height="38.3" fill="#e95069" stroke="#d98a94" stroke-width="0.6" stroke-opacity="0.6"/>
<rect x="1561.2" y="737.6" width="25.9" height="38.3" fill="#e9526a" stroke="#d98a94" stroke-width="0.6" stroke-opacity="0.6"/>
<rect x="1586.8" y="737.6" width="25.9" height="38.3" fill="#e9546c" stroke="#d98a94" stroke-width="0.6" stroke-opacity="0.6"/>
<rect x="1612.4" y="737.6" width="25.9" height="38.3" fill="#e84468" stroke="#d98a94" stroke-width="0.6" stroke-opacity="0.6"/>
<rect x="1638.1" y="737.6" width="25.9" height="38.3" fill="#ec766c" stroke="#d98a94" stroke-width="0.6" stroke-opacity="0.6"/>
<rect x="1663.7" y="737.6" width="25.9" height="38.3" fill="#ec766c" stroke="#d98a94" stroke-width="0.6" stroke-opacity="0.6"/>
<rect x="1689.3" y="737.6" width="25.9" height="38.3" fill="#e89174" stroke="#d98a94" stroke-width="0.6" stroke-opacity="0.6"/>
<rect x="1714.9" y="737.6" width="25.9" height="38.3" fill="#ea696c" stroke="#d98a94" stroke-width="0.6" stroke-opacity="0.6"/>
<rect x="1740.5" y="737.6" width="25.9" height="38.3" fill="#ea586a" stroke="#d98a94" stroke-width="0.6" stroke-opacity="0.6"/>
<rect x="1766.2" y="737.6" width="25.9" height="38.3" fill="#e84268" stroke="#d98a94" stroke-width="0.6" stroke-opacity="0.6"/>
<rect x="1791.8" y="737.6" width="25.9" height="38.3" fill="#ec706c" stroke="#d98a94" stroke-width="0.6" stroke-opacity="0.6"/>
<rect x="1305" y="775.6" width="25.9" height="38.4" fill="#ffffff" stroke="#e4e4e4" stroke-width="0.6" stroke-opacity="1"/>
<rect x="1330.6" y="775.6" width="25.9" height="38.4" fill="#ffffff" stroke="#e4e4e4" stroke-width="0.6" stroke-opacity="1"/>
<rect x="1356.2" y="775.6" width="25.9" height="38.4" fill="#e94c6a" stroke="#d98a94" stroke-width="0.6" stroke-opacity="0.6"/>
<rect x="1381.9" y="775.6" width="25.9" height="38.4" fill="#e83e66" stroke="#d98a94" stroke-width="0.6" stroke-opacity="0.6"/>
<rect x="1407.5" y="775.6" width="25.9" height="38.4" fill="#ffffff" stroke="#e4e4e4" stroke-width="0.6" stroke-opacity="1"/>
<rect x="1433.1" y="775.6" width="25.9" height="38.4" fill="#eb6269" stroke="#d98a94" stroke-width="0.6" stroke-opacity="0.6"/>
<rect x="1458.7" y="775.6" width="25.9" height="38.4" fill="#ffffff" stroke="#e4e4e4" stroke-width="0.6" stroke-opacity="1"/>
<rect x="1484.3" y="775.6" width="25.9" height="38.4" fill="#ffffff" stroke="#e4e4e4" stroke-width="0.6" stroke-opacity="1"/>
<rect x="1510" y="775.6" width="25.9" height="38.4" fill="#e84266" stroke="#d98a94" stroke-width="0.6" stroke-opacity="0.6"/>
<rect x="1535.6" y="775.6" width="25.9" height="38.4" fill="#eb6e69" stroke="#d98a94" stroke-width="0.6" stroke-opacity="0.6"/>
<rect x="1561.2" y="775.6" width="25.9" height="38.4" fill="#f0d2c8" stroke="#d98a94" stroke-width="0.6" stroke-opacity="0.6"/>
<rect x="1586.8" y="775.6" width="25.9" height="38.4" fill="#ffffff" stroke="#e4e4e4" stroke-width="0.6" stroke-opacity="1"/>
<rect x="1612.4" y="775.6" width="25.9" height="38.4" fill="#e84068" stroke="#d98a94" stroke-width="0.6" stroke-opacity="0.6"/>
<rect x="1638.1" y="775.6" width="25.9" height="38.4" fill="#eb646a" stroke="#d98a94" stroke-width="0.6" stroke-opacity="0.6"/>
<rect x="1663.7" y="775.6" width="25.9" height="38.4" fill="#eb826e" stroke="#d98a94" stroke-width="0.6" stroke-opacity="0.6"/>
<rect x="1689.3" y="775.6" width="25.9" height="38.4" fill="#ffffff" stroke="#e4e4e4" stroke-width="0.6" stroke-opacity="1"/>
<rect x="1714.9" y="775.6" width="25.9" height="38.4" fill="#ffffff" stroke="#e4e4e4" stroke-width="0.6" stroke-opacity="1"/>
<rect x="1740.5" y="775.6" width="25.9" height="38.4" fill="#ffffff" stroke="#e4e4e4" stroke-width="0.6" stroke-opacity="1"/>
<rect x="1766.2" y="775.6" width="25.9" height="38.4" fill="#ffffff" stroke="#e4e4e4" stroke-width="0.6" stroke-opacity="1"/>
<rect x="1791.8" y="775.6" width="25.9" height="38.4" fill="#ffffff" stroke="#e4e4e4" stroke-width="0.6" stroke-opacity="1"/>
<rect x="1305" y="813.7" width="25.9" height="38.3" fill="#e85669" stroke="#d98a94" stroke-width="0.6" stroke-opacity="0.6"/>
<rect x="1330.6" y="813.7" width="25.9" height="38.3" fill="#ffffff" stroke="#e4e4e4" stroke-width="0.6" stroke-opacity="1"/>
<rect x="1356.2" y="813.7" width="25.9" height="38.3" fill="#e83863" stroke="#d98a94" stroke-width="0.6" stroke-opacity="0.6"/>
<rect x="1381.9" y="813.7" width="25.9" height="38.3" fill="#e9586a" stroke="#d98a94" stroke-width="0.6" stroke-opacity="0.6"/>
<rect x="1407.5" y="813.7" width="25.9" height="38.3" fill="#ffffff" stroke="#e4e4e4" stroke-width="0.6" stroke-opacity="1"/>
<rect x="1433.1" y="813.7" width="25.9" height="38.3" fill="#eb736c" stroke="#d98a94" stroke-width="0.6" stroke-opacity="0.6"/>
<rect x="1458.7" y="813.7" width="25.9" height="38.3" fill="#eb6e69" stroke="#d98a94" stroke-width="0.6" stroke-opacity="0.6"/>
<rect x="1484.3" y="813.7" width="25.9" height="38.3" fill="#acb0d4" stroke="#d98a94" stroke-width="0.6" stroke-opacity="0.6"/>
<rect x="1510" y="813.7" width="25.9" height="38.3" fill="#ffffff" stroke="#e4e4e4" stroke-width="0.6" stroke-opacity="1"/>
<rect x="1535.6" y="813.7" width="25.9" height="38.3" fill="#ecb09b" stroke="#d98a94" stroke-width="0.6" stroke-opacity="0.6"/>
<rect x="1561.2" y="813.7" width="25.9" height="38.3" fill="#ea646c" stroke="#d98a94" stroke-width="0.6" stroke-opacity="0.6"/>
<rect x="1586.8" y="813.7" width="25.9" height="38.3" fill="#e84068" stroke="#d98a94" stroke-width="0.6" stroke-opacity="0.6"/>
<rect x="1612.4" y="813.7" width="25.9" height="38.3" fill="#e94c6a" stroke="#d98a94" stroke-width="0.6" stroke-opacity="0.6"/>
<rect x="1638.1" y="813.7" width="25.9" height="38.3" fill="#ea606a" stroke="#d98a94" stroke-width="0.6" stroke-opacity="0.6"/>
<rect x="1663.7" y="813.7" width="25.9" height="38.3" fill="#eb7c6c" stroke="#d98a94" stroke-width="0.6" stroke-opacity="0.6"/>
<rect x="1689.3" y="813.7" width="25.9" height="38.3" fill="#ffffff" stroke="#e4e4e4" stroke-width="0.6" stroke-opacity="1"/>
<rect x="1714.9" y="813.7" width="25.9" height="38.3" fill="#ea9e88" stroke="#d98a94" stroke-width="0.6" stroke-opacity="0.6"/>
<rect x="1740.5" y="813.7" width="25.9" height="38.3" fill="#ffffff" stroke="#e4e4e4" stroke-width="0.6" stroke-opacity="1"/>
<rect x="1766.2" y="813.7" width="25.9" height="38.3" fill="#e84668" stroke="#d98a94" stroke-width="0.6" stroke-opacity="0.6"/>
<rect x="1791.8" y="813.7" width="25.9" height="38.3" fill="#ffffff" stroke="#e4e4e4" stroke-width="0.6" stroke-opacity="1"/>
<text x="1280" y="763.5" text-anchor="end" class="hm" font-family="Liberation Serif,serif" font-size="17.2" fill="#111">ProCan-DepMapSanger</text>
<text x="1294.5" y="801.5" text-anchor="end" class="hm" font-family="Liberation Serif,serif" font-size="17.2" fill="#111">CPTAC</text>
<text x="1297" y="839.5" text-anchor="end" class="hm" font-family="Liberation Serif,serif" font-size="17.2" fill="#111">CCLE</text>
<text transform="translate(1315.8,863.5) rotate(-45)" text-anchor="end" dy="11.6" class="hm" font-family="Liberation Serif,serif" font-size="17.1" fill="#111">Bladder</text>
<text transform="translate(1341.4,863.5) rotate(-45)" text-anchor="end" dy="11.6" class="hm" font-family="Liberation Serif,serif" font-size="17.1" fill="#111">Bone</text>
<text transform="translate(1367,863.5) rotate(-45)" text-anchor="end" dy="11.6" class="hm" font-family="Liberation Serif,serif" font-size="17.1" fill="#111">Breast</text>
<text transform="translate(1381.5,874.7) rotate(-45)" text-anchor="end" dy="11.6" class="hm" font-family="Liberation Serif,serif" font-size="17.1" fill="#111">Central Nervous System</text>
<text transform="translate(1418.3,863.5) rotate(-45)" text-anchor="end" dy="11.6" class="hm" font-family="Liberation Serif,serif" font-size="17.1" fill="#111">Cervix</text>
<text transform="translate(1440.6,866.8) rotate(-45)" text-anchor="end" dy="11.6" class="hm" font-family="Liberation Serif,serif" font-size="17.1" fill="#111">Endometrium</text>
<text transform="translate(1463.2,869.8) rotate(-45)" text-anchor="end" dy="11.6" class="hm" font-family="Liberation Serif,serif" font-size="17.1" fill="#111">Esophagus</text>
<text transform="translate(1483.7,875) rotate(-45)" text-anchor="end" dy="11.6" class="hm" font-family="Liberation Serif,serif" font-size="17.1" fill="#111">Haematopoietic and Lymphoid</text>
<text transform="translate(1514.2,870.1) rotate(-45)" text-anchor="end" dy="11.6" class="hm" font-family="Liberation Serif,serif" font-size="17.1" fill="#111">Head and Neck</text>
<text transform="translate(1546.4,863.5) rotate(-45)" text-anchor="end" dy="11.6" class="hm" font-family="Liberation Serif,serif" font-size="17.1" fill="#111">Kidney</text>
<text transform="translate(1567.2,868.3) rotate(-45)" text-anchor="end" dy="11.6" class="hm" font-family="Liberation Serif,serif" font-size="17.1" fill="#111">Large Intestine</text>
<text transform="translate(1599.1,861.3) rotate(-45)" text-anchor="end" dy="11.6" class="hm" font-family="Liberation Serif,serif" font-size="17.1" fill="#111">Liver</text>
<text transform="translate(1623.8,862.3) rotate(-45)" text-anchor="end" dy="11.6" class="hm" font-family="Liberation Serif,serif" font-size="17.1" fill="#111">Lung</text>
<text transform="translate(1648.9,862.3) rotate(-45)" text-anchor="end" dy="11.6" class="hm" font-family="Liberation Serif,serif" font-size="17.1" fill="#111">Ovary</text>
<text transform="translate(1668.7,869.3) rotate(-45)" text-anchor="end" dy="11.6" class="hm" font-family="Liberation Serif,serif" font-size="17.1" fill="#111">Pancreas</text>
<text transform="translate(1687.4,876.2) rotate(-45)" text-anchor="end" dy="11.6" class="hm" font-family="Liberation Serif,serif" font-size="17.1" fill="#111">Peripheral Nervous System</text>
<text transform="translate(1726.2,861.3) rotate(-45)" text-anchor="end" dy="11.6" class="hm" font-family="Liberation Serif,serif" font-size="17.1" fill="#111">Skin</text>
<text transform="translate(1746.9,868) rotate(-45)" text-anchor="end" dy="11.6" class="hm" font-family="Liberation Serif,serif" font-size="17.1" fill="#111">Soft Tissue</text>
<text transform="translate(1772.9,867.6) rotate(-45)" text-anchor="end" dy="11.6" class="hm" font-family="Liberation Serif,serif" font-size="17.1" fill="#111">Stomach</text>
<text transform="translate(1802.6,862.3) rotate(-45)" text-anchor="end" dy="11.6" class="hm" font-family="Liberation Serif,serif" font-size="17.1" fill="#111">Thyroid</text>
<text x="1832" y="765" font-family="Liberation Serif,serif" font-size="12.5" fill="#111">Correlation</text>
<defs><linearGradient id="cg" x1="0" y1="0" x2="0" y2="1"><stop offset="0" stop-color="#e8305e"/><stop offset="0.25" stop-color="#ec8a76"/><stop offset="0.5" stop-color="#ffffff"/><stop offset="0.75" stop-color="#8a8cc4"/><stop offset="1" stop-color="#1b1050"/></linearGradient></defs>
<rect x="1833" y="771.3" width="12.4" height="64" fill="url(#cg)"/>
<text x="1848.5" y="776" font-family="Liberation Serif,serif" font-size="12" fill="#111">1.0</text>
<text x="1848.5" y="791.7" font-family="Liberation Serif,serif" font-size="12" fill="#111">0.5</text>
<text x="1848.5" y="807.7" font-family="Liberation Serif,serif" font-size="12" fill="#111">0.0</text>
<text x="1848.5" y="823.6" font-family="Liberation Serif,serif" font-size="12" fill="#111">-0.5</text>
<text x="1848.5" y="838.7" font-family="Liberation Serif,serif" font-size="12" fill="#111">-1.0</text>
</svg>
</body></html>
